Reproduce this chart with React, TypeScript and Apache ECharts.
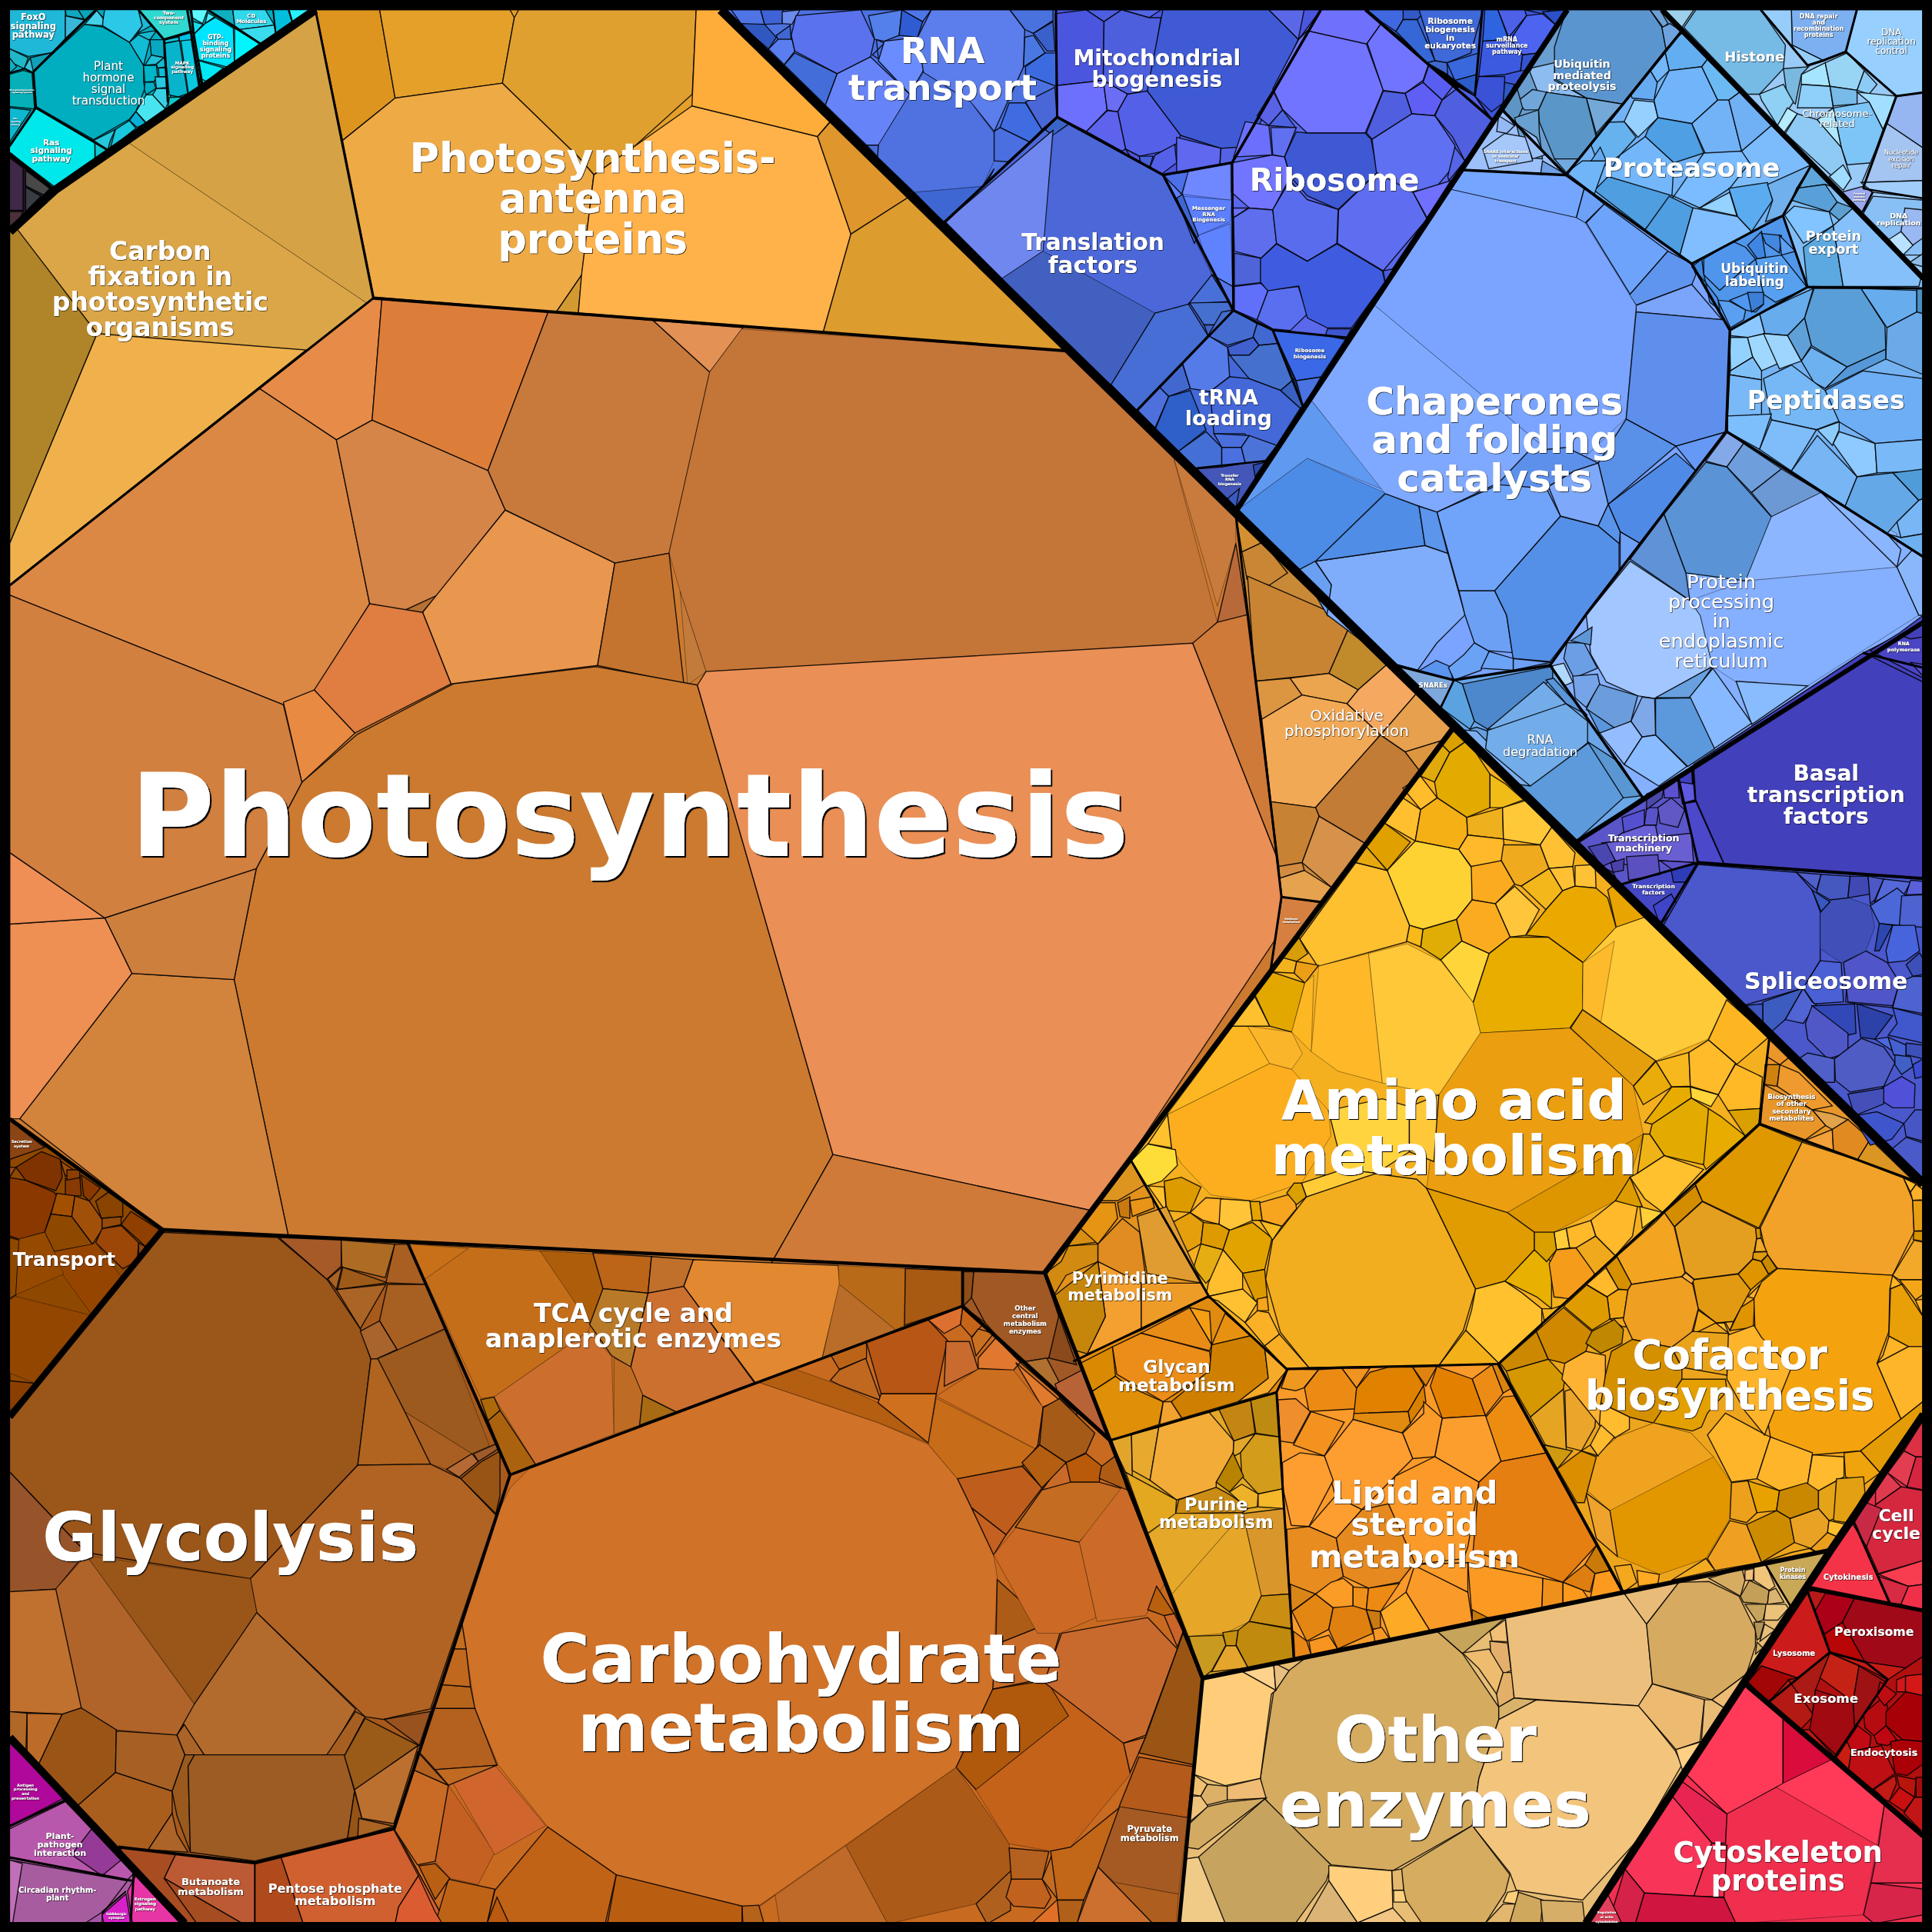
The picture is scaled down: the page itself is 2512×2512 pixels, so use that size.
import React, { useEffect, useRef } from "react";
import * as echarts from "echarts";

type Row = (string | number)[];

// Reading frames: [scaleX, scaleY, offsetX, offsetY] -> chart units (0..1568)
const frames: Record<string, number[]> = {
  o: [1, 1, 0, 0],
  a: [0.3583, 0.3185, 0, 0],
  b: [0.3185, 0.3185, 561.6, 0],
  c: [0.3232, 0.3185, 1061.2, 0],
  d: [0.3631, 0.3185, 998.7, 499.4],
  e: [0.398, 0.3185, 811.5, 624.2],
  f: [0.3583, 0.3185, 811.5, 1061.2],
  g: [0.2436, 0.3232, 1186, 1061.2],
  h: [0.3583, 0.3631, 312, 998.7],
  i: [0.2588, 0.4228, 0, 905],
  j: [0.2081, 0.2081, 0, 0],
  k: [0.2237, 0.208, 1217.2, 898.9],
};

// A "~" in front of a colour marks a sub-cell whose outline is faint.
const regionCells: Row[] = [
  ["#cc7a30", 303,242,868,285,1005,418,1028,624,1040,728,1031,789,848,1033,132,998,8,908,8,475],
  ["#c98a38", 1003,418,1180,590,1031,789,1040,728,1028,624],
  ["#d5a345", 8,188,45,154,256,8,303,242,8,475],
  ["#e5a02a", 256,8,585,8,868,285,303,242],
  ["#f5b020", 1180,590,1436,842,1428,912,1216,1107,1044,1111,981,1052,918,942,1031,789],
  ["#eea51e", 1428,912,1561,961,1561,1145,1485,1258,1317,1292,1216,1107],
  ["#e8962a", 1436,842,1561,961,1428,912],
  ["#fa9a2a", 1045,1111,1216,1107,1317,1292,1050,1346,1036,1130],
  ["#e3a828", 901,1169,1036,1130,1050,1346,976,1362],
  ["#e08a10", 871,1105,981,1052,1045,1111,1036,1130,901,1169],
  ["#e3921c", 848,1033,918,942,981,1052,871,1105],
  ["#e8bd75", 976,1362,1317,1292,1486,1258,1287,1561,957,1561],
  ["#f03050", 1287,1561,1417,1367,1561,1490,1561,1561],
  ["#e03048", 1486,1258,1561,1148,1561,1307,1467,1289],
  ["#b01010", 1417,1367,1467,1289,1561,1307,1561,1490],
  ["#a85a1c", 8,1150,132,999,331,1009,414,1197,320,1484,207,1512,96,1499,8,1410],
  ["#c86a20", 414,1197,781,1060,901,1169,976,1362,957,1561,362,1561,320,1484],
  ["#c87020", 331,1009,781,1031,781,1060,414,1197],
  ["#a05824", 781,1031,848,1033,901,1169,781,1060],
  ["#8f4800", 8,908,132,998,8,1150],
  ["#a84c22", 96,1499,207,1512,207,1561,150,1561],
  ["#d06030", 207,1512,320,1484,362,1561,207,1561],
  ["#a85ca0", 8,1410,150,1561,8,1561],
  ["#00aec0", 8,8,256,8,45,154,8,122],
  ["#201828", 8,122,45,154,8,188],
  ["#7aa4ff", 1187,138,1271,142,1373,214,1404,268,1401,350,1287,499,1258,540,1180,552,1129,539,1003,415,1061,326],
  ["#85afff", 1401,350,1561,452,1561,505,1333,647,1258,540,1287,499],
  ["#6aa6e8", 1180,552,1258,540,1333,647,1280,683,1169,575],
  ["#80bcf5", 1129,539,1180,552,1169,575],
  ["#4d72e0", 585,8,857,8,858,95,767,180],
  ["#4a56de", 857,8,1072,8,1000,132,944,142,858,95],
  ["#4c67d8", 767,180,858,95,944,142,1001,252,923,333],
  ["#5c80ff", 944,142,1000,132,1001,252],
  ["#5a68ec", 1072,8,1108,8,1211,97,1093,274,1033,268,1001,252,1000,132],
  ["#3c6ae4", 1033,268,1093,274,1058,331],
  ["#4468d8", 1001,252,1033,268,1058,331,1027,374,971,380,923,333],
  ["#4456b8", 971,380,1027,374,1003,415],
  ["#3d66d8", 1108,8,1203,8,1197,78],
  ["#3d55d8", 1203,8,1272,8,1219,89,1211,97,1197,78],
  ["#9cc0fa", 1187,138,1219,89,1271,142],
  ["#6a9ed0", 1219,89,1272,8,1349,8,1365,25,1271,142],
  ["#73b2f5", 1271,142,1365,25,1470,134,1447,175,1373,214],
  ["#5096ea", 1373,214,1447,175,1467,233,1404,268],
  ["#80bdf5", 1470,134,1561,226,1561,234,1467,233,1447,175],
  ["#75b2f2", 1404,268,1467,233,1561,234,1561,452,1401,350],
  ["#9acaf7", 1349,8,1561,8,1561,226],
  ["#4340bc", 1376,620,1512,530,1561,505,1561,713,1378,700],
  ["#5a55c8", 1280,683,1362,631,1378,700,1315,718],
  ["#4448c4", 1315,718,1378,700,1347,751],
  ["#4a58cc", 1347,751,1378,700,1561,713,1561,961],
];

const carbonCells: Row[] = [
  ["~#d5a345", 290,363,715,25,847,757,830,772],
  ["~#dba647", 125,485,290,363,830,772,693,892,220,850,35,578],
  ["#b08428", 22,590,35,578,220,850,22,1385],
  ["#f0b14c", 220,850,693,892,22,1490,22,1385],
];

const antennaCells: Row[] = [
  ["#dd9520", 715,25,860,25,895,250,776,358],
  ["#e5a02a", 860,25,1155,25,1165,45,1138,212,895,250],
  ["#e0a030", 1175,25,1577,25,1568,240,1430,380,1345,445,1310,400,1138,212,1165,45],
  ["#eeaa45", 776,358,895,250,1138,212,1310,400,1345,445,1318,700,1260,795,847,757],
  ["#d49a32", 1318,700,1310,797,1260,795],
];
const antennaRightCells: Row[] = [
  ["#ffb24a", 482,142,561.6,86,663.5,110.8,690.6,190,668,270,469.4,254,472,223],
  ["#ffad3a", 565,8,585,8,675,97,663.5,110.8,561.6,86],
  ["#df962c", 675.6,97,739,159,690.6,190,663.5,110.8],
  ["#dd9c2e", 739,159,869,286,668,270,690.6,190],
];
const photosynthesisCells: Row[] = [
  ["#e68c48", 303,242,310,242,302,341,273,357,210,315],
  ["#dc7e3a", 310,242,445,253,396,382,302,341],
  ["#c87a3c", 445,253,530,260,576,302,543,449,499,457,410,414,396,382],
  ["#e39155", 530,260,603,266,576,302],
  ["~#c47538", 576,302,602,267,868,285,951,366,988,505,969,522,573,545,552,480,543,449],
  ["~#c97b3d", 951,366,1003,418,1003,441,988,492],
  ["#b8693a", 988,505,1003,441,1012,499,969,522],
  ["#dc8845", 8,475,210,315,273,357,300,490,255,562,230,572,8,483],
  ["#d58548", 273,357,302,341,396,382,410,414,355,483,342,498,300,490],
  ["#b77033", 329,495,355,483,342,498],
  ["#e9964f", 343,497,410,414,499,457,485,540,366,555],
  ["#c4742f", 485,540,499,457,543,449,555,555],
  ["~#c27b3a", 552,480,573,545,558,556],
  ["#df7e40", 255,560,300,490,343,497,366,555,288,595],
  ["#e88a42", 230,570,255,560,288,595,245,635],
  ["#cc7a30", 245,635,290,596,368,555,484,541,566,556,676,937,625,1027,234,1003,190,795,208,705],
  ["#ea8f56", 573,545,968,522,1040,705,1040,755,888,983,676,937,566,556],
  ["#cf7a38", 968,522,988,505,1012,499,1040,728,1040,705],
  ["#cf7a38", 676,937,888,983,848,1033,625,1027],
  ["#d2843c", 16,908,107,790,190,795,234,1003,132,998],
  ["#cd7f3d", 85,745,208,705,190,795,107,790],
  ["#ee9053", 8,750,85,745,107,790,16,908,8,908],
  ["#ef8f55", 8,692,85,745,8,750],
  ["#d2803f", 8,483,230,572,245,635,208,705,85,745,8,692],
];
const oxidativeTopCells: Row[] = [
  ["#d49030", 1003,418,1025,440,1008,448],
  ["#c98634", 1008,448,1025,440,1045,465,1030,475,1012,470],
];
const oxidativeCells: Row[] = [
  ["#c98433", 38,-100,240,0,265,30,220,148,55,168],
  ["#c18a2a", 265,30,350,125,285,190,220,148],
  ["#f5a860", 285,190,350,125,415,200,335,305,260,225],
  ["#dc9540", 55,168,133,160,160,203,70,265],
  ["#eaa54e", 133,160,220,148,285,190,260,225,160,203],
  ["#f2a955", 70,265,160,203,260,225,335,305,190,490,90,475],
  ["#e6a04e", 335,305,415,200,498,290,470,320,390,348],
  ["#dd963f", 390,348,470,320,425,400],
  ["#c27c35", 190,490,335,305,390,348,425,400,302,582,198,512],
  ["#c78234", 90,475,190,490,198,512,160,630,108,640],
  ["#d6914a", 198,512,302,582,228,695,160,630],
  ["#d18c42", 108,640,160,630,165,650,110,670],
  ["#e5a24f", 110,670,165,650,228,695,205,733,115,717],
  ["#d58040", 115,717,205,733,90,905],
];
const aminoTopCells: Row[] = [
  ["#d9a000", 499,290,530,318,490,350,473,330],
  ["#e0a90c", 473,330,490,350,456,425,425,410],
  ["#e3aa00", 490,350,530,318,580,405,580,490,528,515,462,465,456,425],
  ["#f2bc18", 580,405,615,430,655,470,608,490,580,490],
  ["#ffbd2b", 425,410,462,465,425,495,385,440],
  ["#ffbf2e", 385,465,425,495,413,575,345,530],
  ["#f5b015", 462,465,528,515,530,560,510,597,413,575,425,495],
  ["#eeb01c", 528,515,608,490,610,570,530,560],
  ["#ffc838", 608,490,665,470,718,540,692,585,610,570],
  ["#e0a000", 345,530,402,578,350,650,304,590],
  ["#ffb92a", 530,560,610,570,615,625,538,640,510,597],
  ["#ffd233", 350,650,413,575,510,597,540,645,540,725,505,775,430,800,400,790],
  ["#efaa1e", 610,585,692,585,712,645,650,690,635,685,605,625],
  ["#fbab1f", 538,640,605,625,635,685,592,735,540,725],
  ["#ffc133", 718,540,770,605,765,640,712,645,692,585],
  ["#ffc033", 712,645,765,640,770,690,742,702],
  ["#f3b71c", 650,690,712,645,742,702,705,750],
  ["#ffc63c", 592,735,635,690,690,750,660,815,625,820],
  ["#fbab1f", 505,775,540,725,592,735,625,820,578,862,517,830],
  ["#ffc236", 770,638,815,635,817,695,770,690],
  ["#eba900", 705,750,742,702,770,690,817,695,843,720,862,795,788,885,710,820,660,815],
  ["#e8a400", 843,700,865,680,925,770,862,795],
  ["#dfad05", 430,800,505,775,517,830,470,878,425,845],
  ["#f7ba18", 400,790,430,800,425,845,393,830],
  ["#ffc030", 155,825,280,630,350,650,400,790,393,832,195,895],
  ["#e8a910", 280,630,304,590,350,650],
  ["#ffd53a", 470,878,517,830,578,862,542,988],
  ["#e9ad00", 578,862,625,820,710,820,788,885,787,1005,758,1052,558,1065,542,988],
  ["~#ffca38", 788,885,862,795,925,770,960,795,1112,978,1067,1080,950,1135,787,1005],
  ["~#fdba2a", 788,885,858,830,828,1035,787,1005],
  ["#e59f0d", 787,1005,950,1135,900,1200,760,1052],
];
const aminoCells: Row[] = [
  ["~#eb9e10", 980,672,1162,660,1292,808,1312,930,1035,1130,870,1068,895,830],
  ["~#de9600", 1035,1130,1312,930,1285,1040,1255,1100,1130,1180,1090,1180],
  ["#e09c00", 870,1068,1035,1130,1090,1180,1090,1225,1030,1305,970,1325],
  ["#f2ae1e", 625,1090,760,1030,850,1045,870,1068,970,1325,945,1430,895,1520,630,1525,572,1435,542,1300,556,1200],
  ["#e8b000", 1030,1305,1090,1225,1125,1255,1125,1375,1095,1345],
  ["#ffc12d", 970,1325,1030,1305,1065,1335,1105,1375,1105,1420,1018,1515,950,1430,962,1378],
  ["#f3b018", 950,1430,1018,1515,895,1520],
  ["~#fdae1e", 342,880,550,750,595,765,670,870,675,935,615,1055,510,1100,430,1085,370,1005,350,965],
  ["~#fdb722", 475,655,505,655,550,750,342,880],
  ["~#fbb52a", 505,655,595,670,617,725,595,765,550,750],
  ["#ffdd38", 268,998,302,955,358,970,362,1010,330,1050,300,1062],
  ["#ffc12e", 302,955,342,880,350,965],
  ["#e3a800", 520,575,555,517,622,545,596,670,550,655],
  ["#ffc030", 470,655,520,580,550,655],
  ["#ec9f16", 605,490,650,500,622,545,600,520],
  ["#f3b31e", 575,478,605,490,600,520,555,517],
  ["#d89d08", 610,430,628,470,605,490,575,480],
  ["~#fdb722", 622,545,640,525,635,720,595,670],
  ["~#ffb828", 650,502,752,470,780,800,690,770,635,720],
  ["~#ffc838", 752,470,830,445,900,490,965,595,980,672,895,830,780,800],
  ["#ffd43e", 670,870,780,840,835,860,835,975,768,1030,700,1020],
  ["#ffc838", 835,860,895,830,885,1000,835,975],
  ["#ffcc38", 615,1055,700,1020,768,1030,625,1090],
  ["#ffc12e", 302,1062,335,1065,340,1130],
  ["#dd9b00", 335,1050,370,1040,410,1065,388,1130,340,1125],
  ["#ffb42a", 388,1130,420,1092,455,1095,447,1160,415,1150],
  ["#ffc438", 450,1095,510,1100,515,1150,470,1175,447,1160],
  ["#e5a400", 510,1102,530,1102,535,1150,515,1150],
  ["#f7a51e", 530,1105,600,1080,605,1120,575,1165,535,1150],
  ["#d9a000", 600,1055,615,1055,625,1090,605,1110,585,1080],
  ["#e59f0d", 345,1160,388,1130,415,1155,410,1210,375,1235],
  ["#dd9b00", 415,1155,447,1160,468,1175,455,1225,410,1210],
  ["#e2a300", 468,1175,515,1155,555,1195,540,1275,495,1285,455,1225],
  ["#f7ba20", 530,1150,575,1165,556,1200],
  ["#e6ad12", 410,1210,455,1225,460,1260,420,1310,395,1270],
  ["#ffbe2d", 455,1225,495,1285,495,1325,420,1345,425,1310],
  ["#dd9a00", 495,1285,540,1275,545,1345,520,1355],
  ["#ffc132", 420,1345,495,1325,525,1360,500,1410,445,1355],
  ["#f7a51e", 525,1350,545,1345,548,1380,525,1380],
  ["#fbb126", 500,1410,525,1380,548,1385,570,1440,540,1470],
  ["#f7ae25", 540,1470,570,1440,630,1525,585,1528],
  ["#e9ac0a", 1292,808,1338,745,1370,810,1312,855],
  ["#f7b81e", 1338,745,1405,722,1408,808,1370,810],
  ["#ffbb2a", 1405,722,1445,690,1500,750,1465,830,1408,808],
  ["#fdb622", 1445,690,1482,588,1568,683,1503,752],
  ["#ffb926", 1500,752,1555,785,1550,865,1485,870,1465,830],
  ["#e8ab00", 1315,900,1370,810,1408,810,1410,838,1330,905],
  ["#ffd53a", 1408,810,1465,830,1450,860,1410,838],
  ["#e3aa00", 1330,905,1410,838,1445,865,1450,950,1435,1008,1355,985,1325,930],
  ["#e8ab00", 1445,865,1470,885,1520,935,1440,1020,1435,1008],
  ["#d9a000", 1485,870,1550,865,1548,905,1520,935],
  ["#efb318", 1312,930,1325,930,1355,985,1300,1030],
  ["#ffc12e", 1285,1040,1300,1030,1355,985,1435,1020,1352,1130,1315,1095],
  ["#dd9b00", 1255,1100,1285,1040,1310,1115,1280,1115],
  ["#ffb92a", 1205,1150,1255,1100,1300,1115,1290,1190,1255,1240,1215,1190],
  ["#ffcf38", 1305,1115,1352,1130,1310,1170],
  ["#ffcd3a", 1130,1180,1155,1170,1162,1220,1135,1225],
  ["#d9a000", 1090,1180,1130,1180,1135,1225,1115,1255,1090,1225],
  ["#ffb92a", 1155,1170,1205,1150,1215,1190,1175,1220,1162,1220],
  ["#f59c1a", 1135,1225,1175,1220,1215,1280,1195,1330,1165,1350,1130,1345,1120,1260],
  ["#f0a81d", 1175,1220,1215,1190,1255,1240,1215,1290],
  ["#f3b31e", 1125,1375,1150,1365,1110,1405,1105,1375],
];
const secondaryCells: Row[] = [
  ["#ea962a", 1205,1075,1250,1125,1228,1145,1200,1125],
  ["#cf8210", 1195,1145,1228,1145,1222,1200,1192,1195],
  ["#ef9a2e", 1228,1145,1270,1165,1345,1250,1300,1260,1222,1200],
  ["#e0a24a", 1300,1260,1345,1270,1380,1285,1345,1310,1330,1300],
  ["#e8962a", 1185,1298,1192,1195,1300,1260,1330,1300,1280,1340],
  ["#f2a03a", 1280,1340,1345,1310,1348,1370],
  ["#e08a20", 1345,1310,1380,1285,1430,1335,1400,1390,1348,1370],
  ["#db9522", 1400,1390,1430,1335,1530,1445],
];
const cofactorTopCells: Row[] = [
  ["#df9800", 943,68,1097,135,940,470,735,365,710,300],
  ["#f2a228", 1097,135,1295,205,1465,275,1498,360,1503,485,1425,655,1008,628,965,565,945,470],
  ["#d48c00", 710,305,735,365,633,465,597,410],
  ["#e59f20", 735,367,930,470,932,510,918,590,865,648,705,670,672,640,635,465],
  ["#f3a420", 565,447,597,410,633,465,672,645,660,660,478,690,425,580],
  ["#d69000", 385,622,425,582,478,688,465,712,430,708],
  ["#ffba2c", 315,690,385,625,430,708,390,738],
  ["#d09000", 928,472,945,470,948,510,932,512],
  ["#f0a828", 932,512,948,510,968,562,925,562],
  ["#df9a10", 920,565,968,562,972,575,948,600,918,590],
  ["#c98a00", 950,600,972,575,1005,628,975,650],
  ["#df9500", 865,650,918,592,948,600,975,650,910,712],
  ["#e29a12", 700,672,865,650,910,712,848,835,785,840,720,785],
  ["#f8b040", 660,660,675,645,705,672,695,690],
  ["#efa514", 390,738,430,710,465,712,450,820,400,825],
  ["#df9c00", 232,775,315,692,390,740,400,825,335,868],
  ["#f0a820", 400,825,450,820,460,855,445,855],
  ["#f3a818", 720,790,785,840,700,885],
  ["#ffb92c", 785,842,815,840,830,880],
  ["#f5b02a", 818,838,848,835,835,870],
  ["#fdb427", 1395,655,1425,655,1458,690,1418,708],
  ["#f2a828", 1425,655,1503,518,1535,525,1535,672,1450,672],
  ["#f5a518", 1450,672,1535,672,1535,730,1508,750],
  ["#fdb52a", 1508,752,1535,748,1535,815],
  ["#e09400", 925,745,920,858,835,870,875,780],
  ["#fdb032", 900,738,945,690,925,745],
  ["#ffb92a", 1465,275,1510,298,1490,330],
  ["#fdb02a", 1490,330,1510,300,1535,320,1535,360,1498,362],
  ["#e89e12", 1498,362,1535,362,1535,480,1503,482],
  ["#d89400", 1503,482,1535,482,1535,522,1500,515],
];
const cofactorMergedCells: Row[] = [
  ["#f4a30e", 1442.7,1029.5,1536,1035,1533.7,1046.6,1533,1080.6,1523.4,1106.4,1542.9,1151.7,1510,1177.6,1471,1180.8,1436.9,1166.2,1425,1100,1423.5,1053.9,1429.7,1040.3],
  ["#e89f08", 1534.4,1046,1543.4,1042.4,1560.6,1068.4,1561,1093,1549,1093,1533,1084.5],
  ["#ef9f22", 1324,1042.4,1364.8,1036.2,1373.8,1042.4,1378.3,1062.2,1372.7,1083,1356.5,1093.5,1324.9,1087,1317.5,1071,1321.2,1047],
];
const cofactorCells: Row[] = [
  ["#cc8800", 130,140,250,60,290,130,150,160],
  ["#d08800", 250,60,340,0,435,60,415,110,345,140,290,130],
  ["#bf8800", 435,60,510,30,540,55,535,90,465,115,415,90],
  ["#d59800", 150,160,290,130,345,175,340,205,230,275,165,190],
  ["#e5a422", 230,275,340,205,350,360,280,345],
  ["#eaa52a", 345,210,365,205,450,260,445,300,400,360,350,350],
  ["#fdb232", 335,180,345,140,415,110,480,120,480,200,460,295,365,205],
  ["#d59000", 480,170,500,110,570,80,700,100,735,150,735,255,640,290,560,275,465,240],
  ["#e3a000", 735,180,880,180,885,210,820,265,800,300,770,310,640,290],
  ["#ffbc2e", 465,240,560,275,560,305,510,328,460,295],
  ["~#e29600", 420,460,450,370,520,325,640,290,765,315,840,375,900,440,895,530,815,630,660,670,520,625,495,510],
  ["~#f0a31e", 450,370,520,325,640,290,765,315,840,375,495,510,420,460],
  ["#efa32c", 415,465,495,510,520,625,450,580],
  ["#da8e00", 320,405,400,360,450,375,420,460,410,490,385,490],
  ["#cf9910", 275,345,370,360,320,405],
  ["#e8a820", 400,360,430,345,455,372],
  ["#ffbb2e", 430,345,465,295,510,325,455,372],
  ["#ffb52a", 820,320,880,265,1015,320,1030,325,985,430,900,438],
  ["#fdb42a", 885,70,975,45,1000,75,1100,150,1010,320,945,260,885,180],
  ["#fdb427", 1385,140,1405,120,1425,72,1490,98],
  ["#ffb52a", 1385,140,1490,98,1540,98,1540,235,1465,280],
  ["#e39c06", 1465,280,1540,235,1540,260,1395,415,1330,360],
  ["#ffb52a", 1030,325,1170,365,1150,460,1060,460,985,430],
  ["#ffba2e", 1170,370,1275,375,1275,425,1190,460,1150,460],
  ["#efa40e", 1275,365,1330,360,1395,415,1340,445,1280,425],
  ["#eca01c", 900,440,955,435,985,515,950,540,895,530],
  ["#e8a200", 955,435,1060,460,1050,510,985,515],
  ["#c98800", 1060,460,1150,440,1190,460,1190,505,1095,530,1050,510],
  ["#e5a318", 1190,460,1250,435,1245,530,1225,535,1190,505],
  ["#e2a012", 1250,430,1340,425,1345,465,1285,540,1240,535],
  ["#cd8c00", 950,545,1050,510,1095,530,1110,590,1000,640],
  ["#f0a020", 895,535,950,545,1000,640,845,660,820,630],
  ["#eaa224", 1095,530,1190,505,1225,535,1220,570,1165,605,1110,590],
  ["#ffbe2e", 1225,535,1285,545,1250,575,1220,565],
  ["#f3a81e", 1100,615,1160,605,1195,620,1000,640],
  ["#ea9e1d", 1165,605,1220,565,1250,575,1225,610,1195,620],
  ["#f3a81e", 540,715,510,650,565,645,585,690],
  ["#ffaa22", 585,660,660,670,655,693,590,700],
  ["#f3ab20", 700,685,815,630,845,660],
  ["#e9a31a", 770,60,890,65,885,170,735,150,700,100],
];
const lipidCells: Row[] = [
  ["#ef9820", 652,157,722,158,688,205,670,212,637,205],
  ["#ec8b14", 722,158,775,155,808,205,805,258,700,265,690,205],
  ["#f09320", 775,155,838,155,808,205],
  ["#e08200", 838,165,880,152,935,152,960,198,925,265,802,270,808,205],
  ["#e38a10", 802,270,925,265,930,295,910,320,800,285],
  ["#d98000", 925,265,960,198,965,240,930,295],
  ["#df8310", 935,152,990,150,965,200],
  ["#e38000", 990,150,1070,182,1100,275,1002,282,975,200],
  ["#ec8c16", 1070,182,1115,145,1140,218,1100,275],
  ["#d9830f", 1115,145,1132,145,1160,205,1140,218],
  ["#ec8d12", 1140,228,1165,225,1240,370,1135,392,1100,280],
  ["#fb9e2d", 1002,282,1100,275,1135,392,1085,445,985,380],
  ["#fa9a28", 960,240,1002,282,985,380,935,385,912,320,960,270],
  ["#fe9d30", 735,378,800,285,912,320,935,385,895,430,820,515,760,480],
  ["#f3921f", 665,350,705,265,780,292,735,378],
  ["#ee8e2c", 630,235,670,232,703,265,665,345,635,340],
  ["#fe9e30", 640,395,680,370,735,378,755,440,700,558,660,555,642,465],
  ["#fe9e30", 700,558,760,480,820,515,762,588],
  ["#e88c20", 650,565,700,558,762,588,778,685,715,730,655,705],
  ["#fb9a28", 895,430,985,380,1085,445,1060,610,1050,640,935,655,880,500],
  ["#e68a20", 762,588,820,515,880,500,940,650,905,700,835,715,778,685],
  ["#e57f12", 1085,445,1135,392,1240,370,1352,605,1275,700,1072,620],
  ["#c97a08", 1352,605,1382,670,1348,678,1325,655],
  ["#de7e10", 1275,700,1325,655,1348,678,1337,725,1320,720],
  ["#fb9a1e", 1348,678,1382,670,1412,725,1337,745],
  ["#fb991c", 1275,700,1320,720,1335,745,1275,757],
  ["#fa9a22", 1060,650,1230,690,1228,765,1105,790,1070,800],
  ["#f0901c", 1230,690,1275,700,1275,757,1228,765],
  ["#fa9a28", 940,655,1060,725,1070,800,975,825,920,725],
  ["#fb9c2a", 935,655,1060,650,1060,725],
  ["#d98518", 658,705,715,730,660,775],
  ["#e38712", 662,775,715,730,755,765,745,820,695,850],
  ["#fa9c25", 715,730,750,700,778,690,800,710,800,765,755,765],
  ["#f19018", 800,712,835,715,830,770,800,765],
  ["#ec8a14", 835,715,905,703,862,775,830,770],
  ["#df8010", 755,765,800,760,830,770,845,830,765,870,745,820],
  ["#ca7a12", 830,770,862,775,862,818,845,820],
  ["#fdaa26", 862,775,920,725,975,825,885,848],
  ["#f89420", 700,850,745,835,765,870,705,885],
  ["#e88618", 665,825,695,850,705,885,668,893],
  ["#f59826", 845,820,865,815,885,848,850,855],
  ["#c67a0a", 1070,770,1105,790,1070,800],
];
const purineCells: Row[] = [
  ["#e2a52c", 250,338,298,322,300,430,285,420],
  ["#e8a92f", 298,322,360,305,340,440,300,415],
  ["#f3ac38", 360,305,470,262,530,340,528,380,490,445,490,460,400,490,340,440],
  ["#c48512", 490,245,568,235,578,320,530,340],
  ["#be8b12", 568,235,628,218,635,330,580,320],
  ["#e3a72a", 530,340,578,322,545,370,528,380],
  ["#d39c1a", 578,322,635,330,640,462,585,475,548,430,545,370],
  ["#b88300", 490,445,528,370,552,430,520,470],
  ["#ca8c14", 405,490,490,458,518,475,565,510,550,522,398,525],
  ["#e3a820", 285,420,400,490,398,525,335,575],
  ["#eeb228", 520,470,548,450,585,475,583,508,560,512],
  ["#f5b82a", 585,475,640,462,645,512,585,508],
  ["~#e5a828", 335,578,398,525,550,525,390,730],
  ["#d9962a", 550,525,645,512,655,730,592,735],
  ["~#e6a628", 390,730,550,525,592,735,565,800,510,830,428,838],
  ["#c98e12", 592,735,655,730,662,818,565,800],
  ["#c99a20", 428,838,505,835,512,860,480,925,458,945],
  ["#c4900e", 505,828,540,822,535,862,512,862],
  ["#bf8a0e", 540,822,565,800,662,820,665,895,562,918,535,860],
  ["#e5a52d", 512,862,535,862,562,918,480,928],
];
const glycanCells: Row[] = [
  ["#d98a02", 182,142,255,100,262,175,207,215],
  ["#df8f08", 207,215,262,175,290,200,370,240,360,298,250,338],
  ["#eb8d18", 255,100,320,65,475,112,480,160,370,240,265,170],
  ["#e88c16", 320,65,430,0,480,95,475,110],
  ["#f59e14", 430,0,475,10,480,95],
  ["#e89010", 510,15,568,72,480,95],
  ["#cf8000", 480,95,568,72,600,105,608,180,540,240,412,282,388,240,475,160],
  ["#f2a22e", 370,240,388,240,412,282,362,298],
  ["#f5aa2a", 600,105,652,157,608,217,540,240,608,180],
];
const pyrimidineCells: Row[] = [
  ["#d28a10", 92,1285,125,1255,140,1215,200,1210,200,1255,135,1290,108,1345],
  ["#d78e12", 140,1215,160,1165,200,1205],
  ["#e59414", 160,1165,205,1105,235,1105,240,1145,200,1210],
  ["#e08c20", 200,1210,250,1145,285,1180,300,1320,285,1310,200,1255],
  ["#e09c30", 280,1140,340,1115,412,1310,300,1285],
  ["#c87a10", 240,1105,265,1090,265,1145,245,1140],
  ["#e89418", 265,1100,310,1090,315,1118,270,1140],
  ["#dd9520", 205,1100,235,1050,268,1000,295,1060,240,1100],
  ["#ee9c28", 288,1310,412,1310,425,1345,288,1430],
  ["#f3a030", 200,1255,288,1310,288,1430,178,1490,215,1395],
  ["#c6860b", 108,1345,200,1255,215,1395,178,1490,150,1480],
];
const enzymeCells: Row[] = [
  ["#c6a45a", 990,825,1145,790,1048,882],
  ["#e4af6c", 1110,850,1150,855,1158,925,1135,935,1112,885],
  ["#f2bf76", 1110,825,1145,795,1150,852,1115,850],
  ["#eebc6f", 1048,880,1108,870,1140,930,1125,985,1085,920],
  ["#e3b06a", 1125,985,1140,930,1160,930,1165,995,1130,1018],
  ["#d5ab60", 690,895,990,825,1048,882,1130,1018,1130,1050,1085,1200,1070,1320,890,1435,750,1420,630,1300,600,1250,590,1200,620,980,655,925],
  ["#ecc07c", 1145,790,1412,725,1465,805,1478,958,1448,1015,1165,995],
  ["#d9b36a", 1130,1018,1165,995,1215,1000,1130,1050],
  ["#f3c47c", 1070,1320,1085,1200,1130,1050,1215,1000,1448,1015,1530,1130,1545,1165,1450,1350,1320,1510,1170,1485,1155,1440],
  ["#ffcd7a", 460,945,545,925,625,975,615,985,590,1200,510,1218,440,1190],
  ["#fdd28c", 545,925,620,905,625,975],
  ["#e8bf80", 620,905,655,925,625,975],
  ["#f0c070", 440,1190,470,1215,455,1245,430,1240],
  ["#ddb068", 470,1215,515,1220,515,1255,460,1270,455,1245],
  ["#efbb75", 515,1220,590,1200,603,1250,515,1255],
  ["#eec379", 430,1245,455,1245,472,1272,425,1315],
  ["#d2aa62", 425,1320,470,1272,515,1260,603,1250,450,1380,420,1375],
  ["#c6a35f", 450,1400,600,1252,750,1420,740,1460,670,1568,480,1568],
  ["#f0cb88", 405,1568,420,1405,450,1400,510,1568],
  ["#ffcf7e", 745,1422,888,1435,890,1530,810,1568,745,1460],
  ["#dcb476", 745,1460,810,1568,690,1568],
  ["#e4b86e", 888,1435,912,1430,915,1485,890,1485],
  ["#ffd080", 892,1485,920,1485,920,1515,892,1515],
  ["#d6ac60", 915,1485,910,1430,1070,1320,1155,1445,1145,1490,1100,1568,955,1568,920,1510],
  ["#ffce78", 1150,1490,1175,1485,1170,1520,1140,1515],
  ["#e3b66e", 1100,1568,1140,1520,1170,1520,1155,1568],
  ["#d0a85d", 1155,1568,1175,1490,1230,1510,1225,1568],
  ["#d6ae68", 1225,1510,1320,1515,1325,1568,1230,1568],
  ["#f2c583", 810,1568,890,1530,920,1568],
];
const enzymeRightCells: Row[] = [
  ["#e8bc78", 540,715,725,690,617,795],
  ["#d6aa60", 617,795,725,690,825,688,925,725,980,810,980,850,950,920,835,985,637,945],
  ["#edba72", 590,1000,637,945,810,985,795,1090,715,1110],
  ["#e9bb75", 810,985,835,985,880,1005,800,1090],
  ["#ffd083", 715,1110,800,1090,738,1165],
  ["#d6ac62", 825,680,935,655,945,685,930,725],
  ["#f2c07a", 945,660,975,655,972,685,945,685],
  ["#f0c47a", 975,650,1015,645,1045,700,1025,710,975,685],
  ["#c49f57", 930,725,960,685,1025,710,1020,745,940,740],
  ["#dcb471", 1025,712,1048,705,1075,740,1020,745],
  ["#c7a45d", 945,745,1018,745,1005,785,985,790],
  ["#ecc27a", 1015,745,1080,745,1090,755,1055,785,1008,785],
  ["#b49557", 975,790,1010,790,995,830,985,835],
  ["#e8be7c", 1010,795,1045,810,995,838],
  ["#d6ac60", 985,840,1005,855,980,870],
  ["#eebb75", 835,985,950,920,875,1005],
  ["#c9a858", 1015,645,1220,610,1100,755],
];
const redCells: Row[] = [
  ["#ff3a58", 740,1165,945,950,1072,1030,1072,1195,885,1272],
  ["#da0c3c", 1072,1030,1235,1135,1072,1195],
  ["~#ff3a58", 1072,1195,1235,1135,1410,1245,1385,1350,1050,1205],
  ["~#f02e4e", 885,1272,1050,1205,1385,1350,1360,1450,1340,1525,915,1547,875,1480],
  ["#e62f4f", 1410,1245,1540,1325,1540,1445,1365,1445,1390,1350],
  ["#d7254a", 1365,1445,1540,1460,1540,1525,1375,1547,1340,1525],
  ["#e82552", 735,1190,885,1272,880,1345,835,1345,700,1225],
  ["#f83458", 700,1225,835,1345,775,1478,610,1470,545,1410],
  ["#f02e50", 835,1345,885,1350,875,1480,775,1478],
  ["#d42248", 545,1410,610,1470,580,1547,490,1547],
  ["#d01540", 610,1470,875,1482,915,1547,580,1547],
  ["#e2405c", 487,1472,535,1547,425,1547],
  ["#f53348", 1307,540,1425,740,1160,700,1230,610],
  ["#d5283f", 1350,600,1380,495,1465,450,1540,460,1540,635,1390,668],
  ["#f83d50", 1390,670,1540,635,1540,695,1490,700],
  ["#d72a43", 1390,675,1490,700,1465,745,1430,742],
  ["#f03048", 1490,700,1540,695,1540,762,1465,745],
  ["#c82a45", 1305,545,1350,490,1400,505,1350,600],
  ["#e03a4f", 1380,460,1420,415,1465,450,1380,495],
  ["#e23d50", 1420,415,1475,360,1515,375,1485,450],
  ["#dc3045", 1475,360,1540,280,1540,375,1515,375],
  ["#d62540", 1515,375,1540,375,1540,458,1485,450],
  ["#ac0018", 1180,735,1215,715,1310,730,1270,790,1210,820,1170,745],
  ["#b81a1a", 1155,715,1185,705,1215,715,1180,760],
  ["#cc1b1b", 955,940,1155,715,1228,865,1120,930,1000,900],
  ["#b80505", 1210,820,1270,790,1345,890,1320,900,1228,865],
  ["#a00a18", 1270,790,1310,730,1540,765,1540,875,1480,905,1345,890],
  ["#c51b16", 1230,868,1345,890,1480,905,1420,935,1345,905],
  ["#a30606", 955,940,1000,900,1120,930,1020,990],
  ["#b41a14", 1025,990,1090,935,1180,1020,1130,1060],
  ["#a91b14", 1090,935,1120,930,1228,868,1180,960,1170,1020],
  ["#c42214", 1228,868,1325,900,1305,990,1195,930],
  ["#9e1214", 1325,900,1415,940,1310,1055,1305,990],
  ["#a00a10", 1180,960,1305,990,1310,1055,1250,1125,1160,1060,1170,1020],
  ["#c01a14", 1135,1060,1160,1060,1240,1125,1200,1105],
  ["#c91d12", 1250,1130,1285,1090,1300,1110,1290,1160],
  ["#c00a14", 1285,1090,1320,1050,1365,1075,1360,1105,1300,1115],
  ["#b70b12", 1340,1020,1395,985,1420,1000,1415,1050,1375,1075,1345,1055],
  ["#be0d12", 1395,940,1450,970,1410,1000,1385,975],
  ["#d01818", 1450,935,1480,925,1480,965,1450,965],
  ["#d41818", 1480,925,1540,920,1540,975,1480,965],
  ["#a80007", 1415,1015,1480,965,1540,975,1540,1090,1470,1085,1415,1050],
  ["#bf0712", 1375,1075,1415,1050,1450,1085,1420,1100,1385,1095],
  ["#be0f14", 1290,1160,1300,1115,1400,1100,1445,1170,1370,1210],
  ["#ab0008", 1430,1090,1470,1085,1540,1090,1540,1145,1485,1175,1445,1170],
  ["#c21a14", 1375,1210,1445,1175,1450,1195,1425,1240,1410,1235],
  ["#b8150c", 1450,1175,1515,1185,1510,1230,1460,1205],
  ["#a80a0a", 1515,1180,1540,1180,1540,1230,1515,1230],
  ["#c90f10", 1425,1240,1460,1205,1510,1230,1475,1265],
  ["#c21616", 1475,1270,1510,1230,1540,1230,1540,1320],
];
const chaperoneLeftCells: Row[] = [
  ["~#6099f0", 1003,415,1064,325,1124,398,1061,372],
  ["~#4c8ce6", 1003,415,1061,372,1124,400,1067.5,455.5,1055,462],
  ["#69a0f2", 1055,462,1067.5,455.5,1080.6,474.6,1077.4,499.4],
  ["#7fadfb", 1067.7,455.5,1156.5,442.7,1175,449,1189,499,1166,522,1150.5,544,1129,538,1077,499,1080.6,474.6],
  ["#6ba0f5", 1184,479.3,1213,479.3,1222.8,499.4,1227.4,529.7,1207.5,528,1196.6,521.7,1189,499.4],
  ["#5590e8", 1213,479.3,1266.4,419,1297,426.8,1314,441,1314,465,1287,499.4,1258,537,1228,534.4,1222.8,499.4],
];
const chaperoneCells: Row[] = [
  ["#74a6ff", 390,432,650,445,695,480,675,555,360,483],
  ["#6da1f8", 695,480,745,520,697,568,675,555],
  ["#6ea3fb", 700,568,745,520,905,640,810,750],
  ["#5f95ee", 905,640,965,672,975,700,965,725,825,778,808,752],
  ["#7ba4fb", 825,778,965,725,1062,840,1045,815,825,795],
  ["~#7aa4ff", 165,775,360,483,675,555,697,568,825,778,800,1065,670,1190,600,1145],
  ["~#7fa9ff", 10,1020,165,775,600,1145,480,1230,325,1305,195,1258],
  ["#5d90ea", 325,1305,480,1230,555,1150,650,1140,730,1180,670,1200,605,1240],
  ["#5f8fec", 825,795,1045,815,1062,840,1053,1100,925,1137,800,1068],
  ["#5990e8", 730,1180,800,1068,925,1137,755,1285],
  ["#6599f5", 925,1137,1053,1100,975,1200],
  ["#4f8be6", 755,1285,925,1155,975,1200,835,1385,785,1355],
  ["#6ea0f6", 785,1355,835,1385,785,1455],
  ["#7ea9fa", 605,1240,670,1200,730,1180,755,1285,730,1340,635,1315],
  ["#5a94ea", 730,1340,755,1285,785,1355,783,1385],
  ["#70a4fb", 325,1305,480,1235,600,1245,635,1315,470,1505,380,1505],
  ["#508de6", 195,1258,280,1290,295,1390,20,1430],
  ["#5b95ec", 280,1290,325,1305,352,1410,295,1390],
];
const chaperoneLowCells: Row[] = [
  ["#5a94ef", 420,142,460,115,490,130,497,165],
  ["#6aa2f6", 487,133,522,100,545,70,578,92,560,140,500,165],
  ["#6ba3f7", 578,92,632,110,632,140,560,135],
  ["#6ea0f5", 632,110,715,120,632,140],
  ["#7ea7dc", 360,122,500,165,468,235],
];
const processingMergedCells: Row[] = [
  ["#a2c6ff", 1287.4,499.4,1323,455.5,1371.5,487.3,1380,499.4,1390,541,1343.6,567,1329,564.7,1303.7,553.5,1291,531],
  ["~#85afff", 1416.7,471.4,1539.5,460,1557,499.4,1467,556.7,1409,553.5,1390,541,1380,499.4,1371.5,487.3],
];
const processingCells: Row[] = [
  ["#84a9e8", 1000,1175,1055,1100,1095,1130,1053,1190],
  ["#6e9fdc", 1095,1130,1190,1195,1115,1255,1053,1190],
  ["#6c98d4", 1115,1255,1190,1195,1290,1255,1165,1317],
  ["#5a93d6", 895,1310,1000,1178,1053,1190,1165,1317,1100,1480,950,1460],
  ["#5f92d6", 810,1425,895,1310,950,1460,960,1530],
  ["~#8cb6ff", 1165,1317,1290,1255,1480,1360,1480,1445,1100,1480],
  ["#8ab5ff", 1290,1255,1455,1360,1490,1400,1480,1445],
  ["#8ab7fb", 1480,1445,1520,1400,1547,1420,1547,1568,1535,1568],
];
const processingLowCells: Row[] = [
  ["#68a0e0", 950,210,1030,210,1078,130],
  ["#89bcff", 1130,168,1290,180,1165,278],
  ["#86b9ff", 1025,210,1078,135,1165,275,1080,340],
  ["#5c98dc", 950,212,1028,210,1082,340,1022,385,950,305],
  ["#7ea8e8", 895,270,920,208,948,212,950,305,920,310],
  ["#6b9cdc", 822,175,910,205,895,270,860,290,795,240],
  ["#5a96dc", 798,240,862,290,825,300],
  ["#93bdff", 825,300,895,270,920,310,880,380],
  ["#88bbff", 880,380,920,310,950,305,1020,385,957,435],
  ["#6b9fe5", 752,70,790,70,820,135,768,160,745,110],
  ["#b0d8ff", 715,130,745,122,765,170,745,180],
  ["#75a5e8", 765,155,820,150,825,175,795,235,770,210],
  ["#5e97d8", 760,65,808,30,805,75],
  ["#4d87cc", 518,175,720,130,720,160,575,290,545,270],
  ["#5aa3e0", 470,235,500,165,518,175,545,270,535,290],
  ["#65a0e0", 535,290,550,285,575,295,570,350],
  ["#7caff0", 500,290,550,295,670,432,655,440],
  ["#73ace9", 575,290,700,170,750,225,640,290],
  ["#72ade9", 575,293,750,225,798,270,798,325,688,425,670,435,570,340],
  ["#5b95da", 705,165,722,160,798,255,750,225],
  ["#5c9adb", 670,435,800,325,870,395,878,465,770,578,640,430],
  ["#5a97d2", 798,322,870,375,918,460,878,465],
];
const labelingCells: Row[] = [
  ["#4f95ec", 995,660,1068,615,1100,630,1125,660,1035,740,995,700],
  ["#3f86e3", 1105,625,1140,590,1150,655,1130,660],
  ["#4288e0", 1140,595,1190,600,1185,645,1150,620],
  ["#5c9ef0", 1185,600,1225,640,1190,650],
  ["#4287de", 965,680,990,660,995,700,1000,720],
  ["#57a0f0", 1125,660,1190,650,1255,733,1175,770,1145,750],
  ["#4f97f0", 1060,765,1110,745,1145,775,1125,795,1100,790],
  ["#3c7fd6", 1105,745,1145,745,1145,775,1115,795],
  ["#5a9ff0", 1030,765,1060,768,1100,790,1095,815,1062,835],
  ["#4a8fe4", 1000,720,1030,760,1035,790,1010,770],
];
const proteasomeCells: Row[] = [
  ["#62aef0", 895,120,940,85,1005,150,990,170,908,180],
  ["#73b6fa", 855,170,895,120,908,180,878,210],
  ["#66aaf2", 810,235,855,170,878,210,870,255,815,250],
  ["#96d0ff", 795,310,820,255,870,260,880,300,830,350],
  ["#66b2ef", 712,370,738,312,795,310,825,350,785,395,735,430],
  ["#72b4fa", 870,255,908,180,990,170,1030,255,965,315,880,300],
  ["#6bbaf3", 990,170,1005,150,1085,235,1058,255,1030,255],
  ["#4e9fe3", 855,330,880,300,965,315,995,390,920,415,848,348],
  ["#72b3f8", 965,315,1030,255,1058,255,1090,385,1005,405],
  ["#70b0f5", 1058,255,1085,235,1165,320,1090,385],
  ["#7cbcfc", 1090,385,1165,320,1265,420,1180,465,1155,475,1058,480],
  ["#73b6fa", 785,395,848,348,920,415,915,500,750,450],
  ["#7abcff", 995,390,1090,385,1110,415,1060,480,985,530,920,500],
  ["#4e9ee0", 720,485,755,450,920,500,848,585],
  ["#4f9ee2", 848,585,908,500,968,530,935,650],
  ["#81beff", 935,650,968,530,1080,552,1115,590,965,672],
  ["#94d2ff", 985,530,1060,490,1078,550],
  ["#5babf0", 1058,480,1155,465,1168,510,1115,590,1080,552],
  ["#70b0ec", 1155,470,1265,420,1195,548,1150,565,1168,510],
  ["#6fb5f8", 650,440,690,410,750,410,720,495],
  ["#65aaee", 735,375,750,410,712,410],
];
const ubiquitinCells: Row[] = [
  ["#5b95cf", 620,120,650,25,860,25,890,70,900,125,790,265,700,250,620,200],
  ["#6fa0d5", 860,25,885,25,905,60,893,70],
  ["#6ea3e0", 890,70,910,60,940,80,900,125],
  ["#8cbcf0", 555,175,620,160,620,205,700,250,600,235,580,240],
  ["#74a8d8", 700,250,790,265,725,340],
  ["#5a96c8", 580,280,600,235,700,250,725,350,680,405,620,405,582,310],
  ["#70a6d8", 525,260,565,228,600,235,580,280,545,280],
  ["#5f95c5", 492,278,525,220,540,275,520,320],
  ["#6aa0d0", 520,300,580,280,582,340,590,405,545,400],
  ["#72aae0", 620,405,680,405,650,440],
  ["#a5c7fa", 440,380,495,340,550,350,565,410,455,430],
  ["#95b9f5", 480,295,520,320,500,340,475,335],
  ["#6f9fe5", 590,410,650,445,585,445],
  ["#9ac0f8", 530,320,575,350,595,395,565,405,545,345],
];
const chromatinCells: Row[] = [
  ["#9dd0ea", 895,25,970,25,940,70],
  ["#75bbe6", 945,70,975,25,1138,25,1200,115,1195,175,1135,240,1105,240],
  ["#7cb0f0", 1215,25,1380,25,1352,132,1297,155,1217,115],
  ["#96cdfa", 1138,25,1215,25,1217,115,1297,155,1258,168],
  ["#97d0ff", 1380,25,1547,25,1547,235,1480,245,1352,132],
  ["#a5e5ff", 1240,190,1300,160,1312,220,1240,215],
  ["#98d5f5", 1300,160,1355,135,1398,180,1380,230,1312,220],
  ["#8ed0fa", 1240,215,1312,220,1320,275,1230,275],
  ["#8ccbf5", 1398,180,1430,215,1410,240,1380,230],
  ["#78bae8", 1312,220,1380,230,1380,265,1320,270],
  ["#a2deff", 1380,235,1480,245,1445,330,1410,260],
  ["#79b9e0", 1195,175,1258,170,1240,190,1225,265,1205,250],
  ["#8fd0f5", 1135,240,1195,215,1220,260,1180,320,1140,255],
  ["#b5ebff", 1180,320,1205,275,1230,290,1195,340],
  ["#7ec5f7", 1320,275,1410,260,1445,330,1415,415,1355,420,1340,375],
  ["#8fcaf5", 1200,340,1230,290,1280,305,1340,375,1355,425,1365,455,1318,450],
  ["#b0e8ff", 1280,305,1320,275,1340,375],
  ["#9fdcff", 1310,450,1345,420,1365,455,1345,485],
  ["#95b6f0", 1480,245,1547,235,1547,378,1455,315],
  ["#a4c4f2", 1392,465,1455,315,1547,378,1547,460],
  ["#a0cdfa", 1390,465,1547,460,1547,505,1420,490],
  ["#9aa8ee", 1340,490,1395,475,1418,490,1392,540],
  ["#88c0f5", 1395,545,1420,500,1547,510,1547,650,1500,650],
  ["#9ab8f2", 1500,530,1547,535,1547,605,1520,625,1490,590],
  ["#b8e2ff", 1460,610,1490,590,1520,625,1495,650],
  ["#8fbce8", 1510,670,1547,645,1547,680],
  ["#5ea6dc", 1228,480,1265,420,1330,480,1300,470],
  ["#59a0d8", 1215,510,1228,480,1300,470,1330,515,1310,540],
  ["#5d9fd0", 1310,540,1330,515,1370,530,1340,565],
  ["#82c4ff", 1198,548,1222,525,1310,540,1320,575,1245,620],
  ["#5ca8e0", 1245,630,1320,575,1345,730,1255,730],
  ["#85c0fa", 1320,575,1370,530,1540,710,1535,730,1345,730],
];
const peptidaseCells: Row[] = [
  ["#5a9ed8", 1248,810,1272,735,1390,735,1450,830,1452,890,1355,935,1265,880],
  ["#5fa0d8", 1205,855,1248,810,1265,880,1240,920],
  ["#67acec", 1135,800,1215,760,1270,735,1248,810,1205,855,1148,850],
  ["#8cc8ff", 1060,840,1135,800,1148,850,1105,860,1060,855],
  ["#93d2ff", 1060,860,1105,860,1118,910,1062,945],
  ["#9fd8ff", 1105,860,1148,850,1185,925,1140,945,1118,910],
  ["#9dd5ff", 1145,850,1205,855,1240,920,1185,940],
  ["#80c0f8", 1062,945,1118,910,1140,945,1140,968,1060,955],
  ["#67aced", 1390,735,1530,740,1530,795,1455,835],
  ["#4a8fc5", 1530,735,1547,735,1547,800,1530,795],
  ["#6ba9e8", 1455,835,1530,795,1547,800,1547,955,1452,915],
  ["#6eb1f0", 1240,920,1265,885,1355,935,1300,990,1272,975],
  ["#5598d8", 1300,990,1355,935,1452,890,1452,915],
  ["#75b8f5", 1145,965,1215,930,1300,995,1340,1075,1330,1075,1278,1095,1165,1070],
  ["#79b9f8", 1060,955,1140,968,1140,1060,1055,1060],
  ["#6eaef5", 1300,995,1395,945,1547,965,1547,1120,1425,1130,1335,1075],
  ["#7dbefc", 1055,1060,1165,1055,1135,1145,1055,1100],
  ["#7fbcfa", 1165,1070,1278,1095,1215,1200,1135,1145],
  ["#8dcbfa", 1280,1095,1335,1075,1335,1095,1318,1135],
  ["#8ec9ff", 1335,1100,1425,1130,1430,1205,1380,1215,1320,1130],
  ["#79b9f8", 1425,1130,1547,1120,1547,1200,1430,1205],
  ["#77b5f5", 1215,1200,1280,1110,1380,1215,1350,1290],
  ["#65a8e8", 1350,1290,1380,1215,1470,1205,1535,1275,1480,1330,1455,1360],
  ["#509cd8", 1470,1205,1547,1195,1547,1270,1535,1275],
  ["#78b6f5", 1480,1330,1535,1275,1547,1270,1547,1360,1490,1370],
  ["#6eb0f0", 1455,1360,1490,1370,1547,1360,1547,1420],
];
const translationCells: Row[] = [
  ["#4f74e6", 100,25,175,25,185,62,155,68,125,60],
  ["#3f63d6", 175,25,232,25,230,60,185,62],
  ["#3058c0", 125,60,185,62,215,95,195,125,155,90],
  ["#4066d0", 215,90,250,65,253,105,220,105],
  ["#6a8bec", 230,30,275,25,255,62,230,60],
  ["#5a7eef", 195,125,220,100,255,100,262,130,235,165],
  ["#5a72ee", 253,90,265,40,430,25,465,100,455,145,370,188,262,130],
  ["#436dd8", 235,165,262,135,370,188,340,268],
  ["#6783f8", 340,268,370,188,455,145,555,240,475,370,445,370],
  ["#4f74e6", 475,150,460,140,490,110,470,100],
  ["#5380ea", 465,100,450,40,535,25,528,90,490,105],
  ["#2f5cd2", 528,90,535,25,588,55,575,95],
  ["#4e76e6", 535,25,610,25,588,55],
  ["#6a8cff", 475,155,490,105,575,95,595,170,555,240],
  ["#5c7eec", 575,95,610,25,810,25,848,75,845,170,770,335,710,260,590,185],
  ["~#4f72e0", 555,240,590,185,710,260,770,340,770,410,740,475,568,490,473,400,475,370],
  ["~#3f67d4", 568,490,740,475,640,565],
  ["#4a72de", 810,25,920,25,920,52,870,85,848,75],
  ["#3a60cc", 870,85,920,55,925,130,905,130],
  ["#4a78e2", 848,95,870,90,900,135,845,170],
  ["#3c6ae0", 850,170,900,135,928,135,928,220,850,190],
  ["#3f6ce0", 808,262,850,262,892,330,860,362,785,325],
  ["#4a67d8", 850,260,925,222,930,298,892,330],
  ["#4b6fe0", 770,335,785,325,860,362,805,412,770,410],
  ["#5574e0", 740,475,770,430,760,450],
  ["#4a6dd8", 445,370,475,370,473,400],
  ["#4a56de", 925,35,1005,25,1050,55,1048,205,930,218],
  ["#4d5ee0", 1005,25,1095,25,1050,55],
  ["#5265e5", 1095,25,1195,25,1165,45],
  ["#4d5fdc", 1050,55,1095,25,1165,45,1195,45,1165,235,1110,240,1048,205],
  ["#3f5ad4", 1200,25,1470,25,1545,100,1420,375,1348,378,1245,345,1160,232,1195,50],
  ["#5a68e8", 1470,25,1560,25,1545,100],
  ["#6c70fc", 930,218,1048,205,1058,280,1005,335,932,298],
  ["#6b6df5", 1048,205,1110,240,1085,285,1058,280],
  ["#5560e8", 1085,285,1110,240,1160,232,1245,345,1232,370,1205,385,1140,398,1105,380],
  ["#5d63ec", 1005,335,1058,282,1085,285,1105,380,1095,385],
  ["#5055d8", 1105,380,1140,398,1145,422,1125,412],
  ["#4860d8", 1140,398,1175,398,1165,430,1145,422],
  ["#5560e8", 1165,432,1180,395,1230,368,1235,415,1195,445],
  ["#5f68ef", 1235,350,1348,378,1345,420,1235,440],
  ["#5463e4", 1348,378,1395,375,1375,415,1345,420],
  ["#3a65c8", 932,298,960,315,920,345,900,330],
  ["#6f87ee", 645,565,920,332,895,640,790,710],
  ["~#4c67d8", 920,345,960,318,1200,445,1325,700,1265,775,1180,798,895,640],
  ["~#4260c0", 790,710,895,640,1180,798,1068,980,965,898],
  ["#466ed4", 1068,980,1180,798,1265,775,1315,855,1132,1045],
  ["#4870d8", 1265,775,1325,700,1368,768],
  ["#4670d0", 1268,772,1368,770,1378,795,1338,828,1305,828],
  ["#3e64c4", 1305,828,1338,828,1315,855],
  ["#4d6fe8", 1200,445,1265,438,1248,495],
  ["~#7088ff", 1250,495,1265,438,1372,415,1373,510],
  ["~#5c80ff", 1248,500,1375,510,1372,565,1290,600],
  ["~#5f82ff", 1290,600,1372,570,1378,730,1325,700],
  ["#5574e8", 1325,700,1378,730,1380,790],
  ["#3f66d0", 1235,505,1250,495,1290,600,1280,620],
  ["#5a62e6", 1440,295,1480,230,1505,280,1470,320],
  ["#6a70fb", 1380,400,1410,310,1470,320,1478,395],
  ["#4c62e0", 1470,320,1505,280,1538,325],
  ["#6070f0", 1475,325,1540,325,1510,400,1480,395],
  ["#7175ff", 1375,415,1478,395,1510,400,1525,450,1480,535,1420,530,1375,490],
  ["#6a70f8", 1378,530,1418,530,1380,555],
  ["#5e6eec", 1380,555,1420,530,1480,535,1490,620,1450,658,1382,640],
  ["#4e64d8", 1382,645,1450,658,1450,720,1382,728],
  ["#6070fb", 1382,730,1450,722,1468,740,1440,815,1382,790],
  ["#5a6ff0", 1468,740,1545,730,1568,800,1525,842,1480,838,1440,815],
  ["#4d70dc", 1135,1045,1190,985,1215,1010,1180,1090],
  ["#4268d0", 1190,985,1250,928,1270,990,1215,1010],
  ["#2f5fc8", 1180,1095,1215,1010,1270,995,1310,1095,1240,1150],
  ["#557be8", 1250,925,1315,855,1365,885,1370,960,1320,998,1270,990],
  ["#456cd0", 1315,855,1350,795,1380,790,1440,825,1430,860,1365,880],
  ["#4060d0", 1365,885,1430,860,1445,880,1420,905,1370,905],
  ["#4068d0", 1430,858,1440,825,1480,840,1495,875,1445,880],
  ["#4570ce", 1370,905,1420,905,1445,880,1495,875,1535,965,1500,995,1420,965],
  ["#4468d8", 1320,998,1370,960,1420,965,1500,995,1550,1040,1490,1135,1425,1120,1408,1105,1330,1105],
  ["#3860c0", 1535,965,1560,1030,1550,1040,1500,995],
  ["#4470d6", 1240,1150,1310,1100,1350,1140,1350,1190,1285,1195],
  ["#4a6edc", 1330,1105,1420,1110,1400,1140,1350,1140],
  ["#4b70e0", 1350,1140,1400,1140,1410,1180,1350,1190],
  ["#4c74d8", 1420,1110,1490,1135,1460,1175,1410,1180,1400,1140],
  ["#2c4aa8", 1430,1185,1460,1178,1435,1215],
  ["#3a5ac0", 1365,1270,1395,1245,1385,1300],
];
const ribosomeMergedCells: Row[] = [
  ["#6f70fb", 1072,8,1108,8,1121,19,1109,36,1061,25,1054,32],
  ["#7074ff", 1033,72,1054,32,1061,25,1109,35.7,1122.6,73,1108,108,1061,108,1041,89],
  ["#3f58d4", 1042.6,127,1052,107,1061,108,1108,108,1112.8,113,1117.8,140,1086,170,1061,159,1047,143],
  ["#5a6cee", 1033,170,1047,146.5,1061,162,1086,170,1085,197.5,1061,212,1036,197.5],
  ["#3f5ce0", 1023,210,1036,198,1061,212,1085,198,1122,220,1124,229,1097,266,1077,266,1061,258,1054,232,1029,236,1023,229],
  ["#3a68e6", 1033,268,1093,274,1072,306,1052,309],
  ["#4a72e0", 1052,309,1072,306,1058,331],
];
const ribosomeCells: Row[] = [
  ["#7074ff", 185,60,305,160,290,205,245,238,190,230,150,110],
  ["#585ff0", 305,165,365,220,338,255,290,210],
  ["#5f5ff5", 245,238,290,210,338,255,318,295,262,290],
  ["#4f5fe0", 190,232,245,238,262,290,162,355,148,338],
  ["#4f5fe0", 338,255,380,222,420,245,465,310,395,410,365,350,320,295],
  ["#6070f2", 162,355,262,290,320,295,370,370,370,420,300,505,265,490,175,455],
  ["#5465e5", 370,375,395,410,355,460,352,450],
  ["#5f6ef0", 78,535,175,440,265,490,300,558,190,690,75,620],
  ["#7070ff", 265,490,360,460,300,555],
  ["#4a5cd8", 190,690,215,685,195,720],
  ["#3e55d0", 50,838,110,838,95,865,45,855],
  ["#4068e0", 150,25,250,25,240,50,222,80,185,55],
  ["#3358c8", 240,25,300,25,275,50,240,50],
  ["#3568d6", 222,80,240,50,275,50,320,155,300,160],
  ["#3f68d8", 280,25,440,25,410,135,350,160,320,155],
  ["#3868dc", 350,160,430,135,425,190,370,205],
  ["#2c5cc8", 370,205,425,190,420,240],
  ["#4068d0", 300,160,320,155,350,160,352,190],
  ["#2e64e0", 445,25,478,25,505,100,440,105],
  ["#4c60e8", 478,25,545,25,550,40,505,95],
  ["#4c64f0", 550,40,590,35,625,65,580,135,535,140,510,100],
  ["#3a5cd8", 545,25,610,25,590,35],
  ["#2c50c8", 590,30,650,25,625,65],
  ["#3a52d6", 430,195,495,195,495,260,462,285,420,245],
  ["#3058c4", 495,210,520,215,490,275],
  ["#3c5ae0", 440,105,510,100,540,140,535,180,495,190,430,195],
  ["#3454d0", 540,140,580,135,560,180,535,180],
];
const transcriptionCells: Row[] = [
  ["#4340bc", 1035,380,1415,95,1548,170,1548,672,1105,638,1040,470],
  ["#4a45c4", 1430,90,1495,45,1548,0,1548,160],
  ["#4340b8", 1495,50,1548,20,1548,55,1520,60],
  ["#5a50d8", 1520,120,1548,125,1548,155],
  ["#4040c0", 1000,420,1030,385,1035,470,1010,480],
  ["#5f58e0", 1005,425,1035,430,1038,470,1012,478],
  ["#4b48cc", 1012,480,1040,475,1105,640,1045,630],
  ["#5550d0", 875,515,925,495,925,535,880,560],
  ["#5a52c8", 925,535,952,535,958,490,930,490],
  ["#6058c4", 955,490,985,465,1015,495,1000,540,960,530],
  ["#4a48a8", 930,455,968,440,965,465,930,495],
  ["#5b52d0", 968,445,1000,420,1003,465,970,465],
  ["#6a60d8", 875,555,925,535,950,535,955,565,845,580],
  ["#6a5fd2", 830,580,1030,555,1035,630,960,625,895,640,860,625],
  ["#5a50c0", 885,615,955,610,960,660,890,675],
  ["#5c52c8", 960,625,1040,630,990,650],
  ["#4a48b0", 800,590,840,580,860,625,830,640],
  ["#4a42a8", 850,630,880,620,878,650,855,655],
  ["#4040a8", 830,640,855,655,870,688],
  ["#2f3cb8", 985,650,1045,632,1020,680,990,680],
  ["#3f45c8", 945,740,985,710,1000,740,960,790],
];
const spliceosomeCells: Row[] = [
  ["#4a58cc", 965,795,1045,635,1265,655,1300,700,1318,755,1318,880,1280,950,1145,995],
  ["#3f55c0", 1145,995,1190,990,1190,1040],
  ["#3d5cc0", 1190,985,1280,950,1240,1030,1210,1060,1190,1040],
  ["#5164d4", 1280,950,1300,985,1310,990,1280,1040,1240,1030],
  ["#4a60d4", 1318,880,1365,885,1370,985,1305,990,1280,950],
  ["#3248b8", 1300,995,1395,990,1398,1065,1380,1070],
  ["#5058c8", 1285,1040,1300,995,1380,1065,1380,1115,1335,1130,1290,1080],
  ["#2c42a8", 1400,990,1480,1020,1440,1080,1408,1075],
  ["#4058cc", 1480,1000,1548,1020,1548,1090,1470,1070,1490,1040],
  ["#5060d4", 1375,985,1400,990,1480,1000,1480,960,1420,910,1380,885],
  ["#5055c8", 1370,885,1420,855,1468,885,1495,935,1480,995,1380,985],
  ["~#4050b8", 1318,760,1340,725,1382,720,1430,740,1440,795,1420,855,1365,885,1318,850],
  ["#3858c0", 1300,700,1340,730,1320,755],
  ["#5060c8", 1265,655,1320,660,1310,700],
  ["#4458c0", 1320,660,1385,665,1380,720,1340,725,1310,705],
  ["#4048b4", 1385,665,1425,665,1430,710,1380,720],
  ["#4c58c4", 1425,665,1460,672,1440,725,1430,735],
  ["#5568d8", 1460,672,1520,680,1505,712,1490,700,1440,730],
  ["#5a60dc", 1520,675,1548,678,1548,710,1510,712],
  ["#4c68d8", 1430,740,1490,695,1510,715,1495,790,1450,785],
  ["#4e62d0", 1500,715,1548,712,1548,795,1495,790],
  ["#2c48b0", 1450,785,1480,790,1450,855,1440,855],
  ["#4864dc", 1465,855,1480,790,1530,790,1540,855,1510,880,1470,885],
  ["#3c50b8", 1510,890,1540,860,1548,875,1548,915,1525,920],
  ["#4e62d0", 1495,935,1525,920,1548,920,1548,1015,1480,1000],
  ["#4e5cc4", 1350,1130,1410,1078,1460,1100,1485,1140,1460,1200,1385,1215,1352,1185],
  ["#5060c8", 1270,1130,1290,1115,1350,1130,1350,1190,1330,1190],
  ["#4c68dc", 1440,1080,1470,1075,1480,1110,1460,1095],
  ["#4560d0", 1470,1075,1510,1095,1510,1125,1482,1120],
  ["#3c50b8", 1510,1090,1548,1095,1548,1130,1510,1120],
  ["#4060c8", 1485,1120,1520,1125,1525,1150,1500,1170,1485,1145],
  ["#3a4cd0", 1525,1145,1548,1130,1548,1175,1530,1180],
  ["#5050d8", 1455,1205,1500,1175,1530,1195,1528,1255,1480,1255,1460,1240],
  ["#4450b8", 1380,1220,1460,1205,1460,1245,1395,1275],
  ["#3f55cc", 1395,1275,1445,1265,1505,1295,1478,1335,1430,1350,1400,1295],
  ["#4656c4", 1505,1295,1530,1260,1548,1260,1548,1340,1510,1328],
  ["#4a5ac8", 1478,1360,1510,1330,1548,1345,1548,1440],
];
const glycolysisCells: Row[] = [
  ["#9b561a", 30,580,510,225,870,235,1025,315,1130,410,1163,468,1122,672,785,890,270,840,30,685],
  ["#a65a28", 875,235,1070,240,1070,290,1025,315],
  ["#ad6b24", 1070,240,1238,248,1208,312,1072,292],
  ["#aa5f22", 1238,248,1280,248,1335,325,1210,322],
  ["#aa6224", 1028,315,1072,292,1055,335],
  ["#9e5a18", 1060,332,1075,292,1215,322,1055,335],
  ["#aa6426", 1055,335,1210,325,1130,410],
  ["#a85f22", 1215,325,1335,325,1395,410,1185,468,1245,450,1190,395],
  ["#a8642c", 1130,415,1190,395,1245,450,1180,468,1163,468],
  ["~#9c5a1e", 1185,468,1395,412,1535,635,1480,650,1270,570],
  ["~#aa5f22", 1270,570,1480,650,1400,680,1350,670],
  ["#b0641f", 1163,468,1185,468,1270,570,1350,670,1122,672],
  ["#b56a35", 1400,680,1480,650,1500,665,1440,695],
  ["#9e5a2a", 1485,650,1560,630,1565,640,1500,665],
  ["#985414", 1445,698,1510,665,1568,645,1568,730,1555,765],
  ["#b06323", 1122,672,1350,670,1445,698,1555,768,1350,1140,1200,1160,1145,1155,805,955,785,890],
  ["#97542a", 30,685,270,840,175,910,30,915],
  ["~#9a5518", 270,845,785,890,805,955,610,1130],
  ["~#b0642a", 175,910,270,845,610,1132,555,1190,365,1180,255,1138],
  ["#c0702f", 30,915,175,910,255,1138,195,1150,30,1145],
  ["#b06828", 30,1145,85,1148,80,1245,30,1195],
  ["#bc6c28", 85,1148,195,1150,120,1248,85,1245],
  ["#9a5516", 120,1248,195,1150,255,1138,365,1180,362,1262,245,1325],
  ["#a66024", 365,1182,555,1190,580,1228,540,1298,362,1262],
  ["#aa5e1e", 245,1325,362,1262,540,1298,540,1340,465,1410,370,1405],
  ["#b26b2d", 555,1190,610,1130,805,955,1115,1140,1030,1228,640,1228,575,1170],
  ["#ab6428", 555,1190,578,1170,640,1228,580,1228],
  ["#a65f20", 1025,1228,1115,1145,1145,1155,1080,1230],
  ["#9a5a1e", 540,1298,580,1228,610,1228,590,1250,597,1415,555,1345],
  ["#9c5c24", 590,1250,610,1228,1080,1228,1112,1298,1090,1388,800,1432,597,1415],
  ["#955316", 1112,1298,1135,1350,1122,1385,1090,1388],
  ["#9a5a18", 1080,1230,1145,1158,1312,1210,1112,1295],
  ["#bc7030", 1112,1295,1312,1210,1235,1360,1135,1350],
  ["#98521f", 1205,1160,1350,1145,1315,1210],
  ["#ab6424", 1125,1350,1235,1365,1122,1385],
  ["#ad6428", 465,1410,540,1340,555,1380,590,1415],
  ["#a84c22", 375,1405,552,1418,515,1465,615,1548,605,1560,500,1560],
  ["#bc5a36", 552,1418,798,1435,798,1550,755,1550,515,1465],
  ["#a54c20", 515,1465,755,1550,615,1550],
  ["#b04a1c", 800,1435,880,1422,950,1550,800,1550],
  ["#d06030", 880,1422,1235,1372,1312,1460,1250,1520,1240,1550,950,1550],
  ["#da5c30", 1312,1460,1365,1530,1385,1550,1240,1550,1250,1520],
  ["#8b4414", 30,10,140,62,30,85],
  ["#7f3300", 50,100,130,70,190,85,195,120,175,145,80,125],
  ["#93481a", 30,100,50,100,30,120],
  ["#9a4c0e", 190,88,230,105,205,118],
  ["#883a04", 205,122,250,115,255,155,205,155],
  ["#8c3f00", 210,105,250,105,250,120,210,125],
  ["#8a3a00", 255,115,315,140,280,165,262,155],
  ["#8a3800", 30,120,80,125,170,148,178,155,140,225,60,238,30,232],
  ["#a25000", 178,150,235,155,225,195,160,190],
  ["#a05008", 235,155,280,165,320,200,320,220,290,248,225,195],
  ["#8f4800", 140,225,160,190,225,195,290,248,170,262],
  ["#884400", 300,165,340,148,385,165,385,195,318,198],
  ["#944a0a", 320,198,380,195,380,210,320,218],
  ["#8f4000", 380,210,410,185,505,222,455,252,435,240],
  ["#9c4608", 320,218,380,212,435,245,430,280,385,295,300,245],
  ["#8a4410", 435,245,455,252,435,278],
  ["~#964500", 170,262,290,248,300,245,380,310,360,325,290,385,195,305],
  ["#8f4800", 30,235,60,240,50,345,30,352],
  ["~#964a00", 60,238,140,225,170,262,200,305,50,345],
  ["~#924600", 30,355,50,348,290,385,110,515,30,495],
  ["#8a3e00", 30,510,108,515,30,570],
  ["#b0089a", 30,1205,205,1310,30,1365],
  ["#b858ac", 30,1370,205,1318,405,1440,420,1455,400,1468,30,1425],
  ["#953a96", 225,1420,300,1360,380,1430,320,1460],
  ["#a85ca0", 30,1430,400,1470,300,1550,30,1550],
  ["#c070b8", 30,1430,70,1437,40,1550,30,1550],
  ["#e835a5", 400,1490,430,1455,580,1550,415,1550],
  ["#d820c8", 320,1535,395,1495,410,1550,325,1550],
  ["#a855a8", 270,1550,320,1530,320,1550],
];
const signalingCells: Row[] = [
  ["#1fb8d8", 37,38,255,38,255,150,205,205,110,220,37,190],
  ["#10a8c0", 255,38,305,38,330,75,258,62],
  ["#0aa5b8", 305,38,375,38,330,78],
  ["#38b8d8", 255,62,330,78,255,150],
  ["#20b8c8", 37,190,110,225,95,268,37,240],
  ["#38c0d8", 95,265,118,225,138,280,125,282],
  ["#10a0b8", 118,225,205,205,130,280],
  ["#12b0c8", 37,225,65,260,37,285],
  ["#05b0b8", 37,290,92,275,125,285,135,425,37,415],
  ["#0eb8d0", 37,420,120,430,37,555],
  ["#00e8ea", 37,570,140,420,370,555,370,620,215,730,37,595],
  ["#0fc8d0", 370,555,420,585,372,620],
  ["#00aec0", 130,280,330,95,400,105,505,165,560,255,560,320,565,345,530,435,505,465,365,545,140,415],
  ["#45d0e8", 330,95,378,40,405,75,400,100],
  ["#2cc8e8", 405,38,540,38,555,100,505,165,400,100],
  ["#05acc0", 375,38,408,38,403,70],
  ["#20b8d8", 540,40,590,100,535,130,555,100],
  ["#18b8d0", 535,132,590,122,610,120,585,155,510,170],
  ["#12bcd5", 505,165,540,135,585,158,560,255],
  ["#08a8c0", 585,155,640,155,640,225,590,215],
  ["#20c0d8", 590,215,640,225,610,250,565,255],
  ["#00b5c8", 560,255,610,255,615,300,600,318,565,320],
  ["#14bcd0", 610,250,640,225,650,260,615,265],
  ["#10bcd4", 618,265,655,265,655,298,620,300],
  ["#28c8e0", 605,300,655,300,665,340,610,345],
  ["#00acc0", 565,320,600,320,608,345,570,370,563,350],
  ["#38d0e4", 610,345,665,345,665,380,645,425,595,370],
  ["#48e4f0", 530,435,570,370,595,370,645,425,570,478],
  ["#08b0d8", 505,470,530,435,568,480,535,497],
  ["#18c8dc", 430,580,450,505,505,470,530,500],
  ["#25c8dc", 365,548,450,505,430,550,420,585],
  ["#30d8d0", 540,38,730,38,745,120,638,152,610,120,590,100],
  ["#08b4cc", 640,170,700,158,732,365,695,378,660,370],
  ["#0ac8e0", 705,158,745,150,775,340,735,365],
  ["#10c0d8", 640,155,695,145,700,158,642,168],
  ["#00c0e8", 698,135,745,125,745,155,700,160],
  ["#10c8c8", 660,380,710,378,655,425],
  ["#5cf8ff", 740,38,810,38,790,92,752,70],
  ["#40f0ff", 810,50,838,65,800,92],
  ["#18dcf0", 748,82,792,95,755,135],
  ["#00e5ff", 755,135,800,92,840,68,910,110,915,268,770,232],
  ["#00f5ff", 915,110,1015,170,915,268],
  ["#00e8f4", 770,235,872,265,790,330],
  ["#00dce8", 780,305,810,320,785,330],
  ["#10afc0", 808,38,908,38,915,100],
  ["#30d8ec", 908,38,1035,38,1070,98,935,115,915,100],
  ["#38dcec", 935,115,1070,98,1075,130,1015,170],
  ["#00bedc", 1065,38,1125,38,1140,85,1075,130],
  ["#28f0ff", 1128,38,1210,38,1140,85],
  ["#402848", 37,615,90,655,90,820,37,820],
  ["#484848", 100,665,195,735,170,760,100,725],
  ["#383d44", 100,730,160,765,100,825],
  ["#4a3038", 37,825,90,825,65,880,37,880],
];
const carbohydrateCells: Row[] = [
  ["~#c56e1a", 55,30,350,45,495,130,462,225,248,372,218,375],
  ["~#c77018", 55,30,190,40,90,110],
  ["~#ae5e0a", 352,45,472,52,495,130,465,210],
  ["#bc6418", 472,50,605,58,597,140,495,130],
  ["#c0702a", 605,58,700,65,678,125,597,140],
  ["#e28830", 700,65,1028,78,1032,120,992,285,840,340,678,125],
  ["#b87a28", 465,210,495,130,597,140,558,305,515,280],
  ["#cc7030", 558,305,597,140,678,125,838,340,660,405,585,368],
  ["~#cc6f2e", 248,372,462,225,515,282,520,455,342,522],
  ["~#be6c24", 520,285,558,305,585,368,578,435,520,455],
  ["#a86a12", 578,435,585,368,660,405],
  ["#ae6a0a", 218,378,248,372,262,402,235,425],
  ["#ab620e", 235,425,262,402,342,522,285,545],
  ["~#b86a18", 1028,78,1180,85,1178,212,1158,222,1030,120],
  ["~#ba6d28", 1030,120,1158,222,1070,255,992,285],
  ["#a85a12", 1180,85,1310,90,1310,168,1178,212],
  ["#8f4e18", 1312,92,1335,92,1330,150,1312,168],
  ["#a05824", 1335,92,1495,95,1530,200,1505,285,1440,295,1360,205,1330,150],
  ["#8a4a1c", 1530,180,1495,100,1568,300,1505,285],
  ["#b07030", 1440,295,1500,285,1540,360,1535,375],
  ["~#d07228", 255,635,285,575,335,525,850,340,1120,430,1232,478,1298,555,1380,725,1388,775,1378,1025,1295,1200,850,1508,810,1510,525,1440,370,1333,258,1195,205,1070,175,870],
  ["~#b45e12", 850,340,930,310,1030,345,1118,385,1232,475,1120,430],
  ["#c06820", 1010,335,1030,312,1090,285,1125,380,1030,345],
  ["#bb6418", 1012,280,1092,250,1092,285,1030,310],
  ["#b85616", 1092,250,1232,200,1275,245,1250,365,1125,365],
  ["#dd7030", 1232,200,1310,170,1305,210,1268,230],
  ["#c66418", 1310,170,1360,205,1330,238,1305,210],
  ["#c96a2e", 1272,248,1325,248,1345,310,1268,348],
  ["#ca7020", 1330,240,1345,220,1380,230,1340,280],
  ["#e07830", 1345,285,1385,240,1440,295,1425,312,1345,308],
  ["#e07a2c", 1430,295,1530,380,1490,395],
  ["#cf701e", 1125,365,1250,365,1232,475,1118,385],
  ["~#cc6e20", 1345,310,1425,312,1492,395,1478,490,1250,370],
  ["~#c76c18", 1250,375,1478,490,1445,525,1298,555,1232,478],
  ["#bf5e1c", 1298,555,1445,527,1490,575,1408,680,1330,620],
  ["#c46020", 1330,620,1408,680,1380,725],
  ["#b66014", 1445,527,1480,480,1535,518,1490,575],
  ["#a0581a", 1480,480,1492,395,1530,380,1568,405,1568,520,1535,518],
  ["#c96a28", 1490,580,1535,518,1552,525,1560,565],
  ["#ad5c18", 1388,780,1500,880,1385,925],
  ["#c96c2a", 1385,925,1500,880,1530,900,1500,1000,1378,1025],
  ["#b0580c", 1378,1025,1500,1005,1550,1085,1340,1250,1295,1200],
  ["~#ac5a18", 1045,1375,1295,1200,1415,1370,1420,1430,1340,1505,1140,1550],
  ["~#bf6a28", 850,1510,1045,1375,1140,1550,895,1550,885,1485],
  ["#b0601e", 1340,1505,1420,1430,1418,1520,1365,1550],
  ["#b4601e", 1415,1380,1505,1388,1490,1450,1420,1450],
  ["#c0611e", 1420,1450,1490,1450,1510,1490,1495,1515,1425,1510,1408,1490],
  ["#c06c22", 1515,1388,1568,1375,1568,1495,1525,1495,1490,1450],
  ["#e07028", 1525,1495,1568,1495,1568,1550,1465,1550],
  ["#b5621a", 810,1510,848,1508,860,1550,812,1550],
  ["#b95e10", 505,1550,525,1440,810,1510,810,1550],
  ["#c06316", 250,1475,370,1333,525,1440,500,1550,232,1550],
  ["#b95a10", 232,1550,255,1490,283,1550],
  ["#be6216", 115,1550,145,1450,250,1472,232,1550],
  ["~#c46022", 115,1410,145,1240,250,1390,212,1462,148,1448],
  ["~#d0662e", 155,1235,250,1195,365,1330,250,1395],
  ["#b85f14", 78,1420,115,1415,148,1448,115,1495],
  ["#c96b24", 20,1335,65,1205,145,1240,115,1410,75,1418],
  ["#b3601e", 65,1205,75,1165,115,1208,145,1240],
  ["#b4601e", 78,1165,108,1068,205,1068,255,1195,115,1205],
  ["#c06a22", 115,1205,255,1195,145,1240],
  ["#b8651c", 108,1068,130,1015,195,1020,205,1068],
  ["#c0681e", 130,1015,158,935,185,935,195,1020],
  ["#c46e20", 158,935,175,875,185,935],
];
const carbohydrateMergedCells: Row[] = [
  ["~#cc6a25", 806.5,1262,824.4,1240,846,1211,876,1251.7,889.6,1312.8,860,1325.6,842,1325.5],
  ["~#c4621a", 792,1452.6,867.4,1392.6,849.5,1363.6,911.8,1414.7,917.2,1440.2,868.8,1499,852.7,1502.3,819,1496.4],
];
const carbohydrateRightCells: Row[] = [
  ["#b86238", 125,195,185,160,245,335,135,230],
  ["#a55a18", 90,350,98,255,135,232,215,320,195,370,150,395],
  ["#b35e10", 50,395,90,350,150,395,95,460],
  ["#b85a0a", 150,395,195,372,232,405,225,445,160,445],
  ["#ae5c14", 230,405,265,375,288,465,225,435],
  ["#c46c22", 95,465,160,445,225,445,288,465,180,598,35,560],
  ["~#cc6b28", 180,598,275,460,288,465,375,700,330,785,220,800],
  ["#c86a2e", 140,830,335,790,402,870,330,1090,280,1110,100,955],
  ["#b9600e", 355,710,395,780,372,785,335,770],
  ["#cb6428", 372,785,395,780,415,825,402,865],
  ["#c86a2a", 280,1110,330,1095,295,1185],
  ["#9a5514", 330,1095,415,830,458,945,438,1165,315,1135],
  ["#b45a1a", 315,1145,438,1170,425,1300,270,1272],
  ["~#a55a24", 270,1272,425,1300,405,1495,260,1465,222,1425],
  ["~#ae5e1e", 222,1425,260,1465,405,1495,400,1568,345,1568],
  ["#cc7030", 175,1568,222,1425,345,1568],
  ["#c26618", 160,1375,270,1275,222,1425,190,1510,130,1510,115,1385],
  ["#b06018", 130,1510,190,1510,175,1568,135,1568],
];

// frame, cells drawn in that order
const cellLayers: [string, Row[]][] = [
  ["o", regionCells], ["a", carbonCells], ["a", antennaCells], ["o", antennaRightCells],
  ["o", photosynthesisCells], ["o", oxidativeTopCells], ["d", oxidativeCells],
  ["d", aminoTopCells], ["e", aminoCells], ["d", secondaryCells],
  ["k", cofactorTopCells], ["o", cofactorMergedCells], ["g", cofactorCells],
  ["f", lipidCells], ["f", purineCells], ["f", glycanCells], ["e", pyrimidineCells],
  ["f", enzymeCells], ["g", enzymeRightCells], ["g", redCells],
  ["h", carbohydrateCells], ["o", carbohydrateMergedCells], ["f", carbohydrateRightCells], ["i", glycolysisCells],
  ["j", signalingCells], ["o", chaperoneLeftCells], ["c", chaperoneCells], ["d", chaperoneLowCells],
  ["o", processingMergedCells], ["c", processingCells], ["d", processingLowCells], ["c", labelingCells], ["c", proteasomeCells],
  ["c", ubiquitinCells], ["c", chromatinCells], ["c", peptidaseCells], ["b", translationCells],
  ["o", ribosomeMergedCells], ["c", ribosomeCells], ["d", transcriptionCells], ["d", spliceosomeCells],
];

// [line width, x, y, x, y ...]
const borderLines: number[][] = [
  [3.5, 1287,499,1401,350],
  [12, 585,8,1561,961],
  [11, 8,188,45,154,256,8],
  [10, 8,1410,150,1561],
  [8, 8,1150,132,998],
  [5, 8,908,132,998],
  [10, 1287,1561,1486,1258,1561,1148],
  [7, 1417,1367,1561,1490],
  [7, 1349,8,1561,226],
  [7, 1272,8,1003,415],
  [7, 1180,590,848,1033],
  [4, 303,242,868,285],
  [3, 256,8,303,242,8,475],
  [4.5, 132,998,848,1033],
  [4, 331,1009,414,1197,320,1484,207,1512,96,1499],
  [3.5, 414,1197,781,1060],
  [3, 781,1031,781,1060],
  [5, 781,1060,901,1169,976,1362],
  [5, 848,1033,976,1362],
  [6, 976,1362,1486,1258],
  [5, 976,1362,957,1561],
  [4, 1216,1107,1317,1292],
  [3, 1216,1107,1428,912,1561,961],
  [3, 1436,842,1428,912],
  [3, 918,942,981,1052,1044,1111,1216,1107],
  [3, 981,1052,871,1105],
  [3, 1036,1130,901,1169],
  [3, 1045,1111,1036,1130,1050,1346],
  [3, 1003,418,1028,624,1040,728,1031,789],
  [3, 1040,728,1072,732],
  [3.5, 767,180,858,95,944,142,1001,252],
  [3, 857,8,858,95],
  [3.5, 1072,8,1000,132,944,142],
  [3, 1000,132,1001,252,923,333],
  [3, 1001,252,1033,268,1093,274],
  [3, 1033,268,1058,331],
  [2.5, 971,380,1027,374],
  [3.5, 1108,8,1211,97],
  [3, 1203,8,1197,78],
  [3.5, 1187,138,1271,142,1373,214,1404,268,1401,350],
  [3.5, 1258,540,1180,552,1129,539],
  [3.5, 1219,89,1271,142,1365,25],
  [3, 1373,214,1447,175,1470,134],
  [3, 1447,175,1467,233],
  [3, 1404,268,1467,233,1561,234],
  [3.5, 1401,350,1561,452],
  [3, 1429,8,1467,53,1480,49,1498,42,1539,78,1512,153],
  [3, 1498,42,1507,8],
  [3, 1539,78,1561,75],
  [2.5, 1512,153,1561,161],
  [2.5, 1512,172,1520,156],
  [3.5, 1287,499,1258,540,1333,647],
  [6, 1280,683,1561,505],
  [2.5, 1180,552,1169,575],
  [3, 1362,631,1378,700],
  [4, 1378,700,1561,713],
  [3, 1378,700,1347,751],
  [3, 1315,718,1378,700],
  [3, 1512,530,1561,542],
  [5, 1467,1289,1561,1307],
  [3, 1505,1236,1534,1302],
  [3, 1436,1381,1485,1341,1514,1349,1532,1363,1489,1426],
  [3, 1467,1292,1485,1341],
  [2.5, 1433,1270,1454,1305],
];
const signalingLines: number[][] = [
  [3, 130,280,375,38],
  [3, 130,280,140,420,420,585],
  [3, 140,420,37,570],
  [2, 95,268,125,282],
  [2, 37,285,95,268],
  [3, 730,38,745,125],
  [3, 640,155,745,125,780,340],
  [3, 640,155,655,400],
  [3, 540,38,640,155],
  [3, 810,38,1015,170],
  [3, 745,38,755,130,790,335],
  [2, 1065,38,1075,130],
  [2, 1125,38,1140,85],
  [5, 37,600,215,745],
];
const pinkLines: number[][] = [
  [3, 30,1365,205,1315],
  [3, 30,1425,415,1470],
  [3, 420,1450,410,1550],
  [2, 320,1530,395,1490],
];
const frameLines: number[][] = [[13, 4,4,1564,4,1564,1564,4,1564,4,4]];

// [text, centre x, centre y, font size, line spacing, weight]
const labelRows: [string, number, number, number, number, string][] = [
  ["Photosynthesis", 511, 662, 150, 150, "bold"],
  ["Carbohydrate\nmetabolism", 650, 1374, 88, 90, "bold"],
  ["Amino acid\nmetabolism", 1180, 915, 72, 72, "bold"],
  ["Glycolysis", 187, 1248, 87, 87, "bold"],
  ["Other\nenzymes", 1165, 1438, 82, 85, "bold"],
  ["Chaperones\nand folding\ncatalysts", 1213, 357, 50, 50, "bold"],
  ["Photosynthesis-\nantenna\nproteins", 481, 161, 52.5, 52.5, "bold"],
  ["Cofactor\nbiosynthesis", 1404, 1116, 53, 53, "bold"],
  ["Lipid and\nsteroid\nmetabolism", 1148, 1237, 41.5, 41.5, "bold"],
  ["RNA\ntransport", 765, 56, 46, 48, "bold"],
  ["Carbon\nfixation in\nphotosynthetic\norganisms", 130, 235, 33, 33, "bold"],
  ["Ribosome", 1083, 146, 40, 40, "bold"],
  ["Proteasome", 1373, 136, 34, 34, "bold"],
  ["Peptidases", 1482, 325, 33, 33, "bold"],
  ["Mitochondrial\nbiogenesis", 939, 56, 28, 28, "bold"],
  ["Translation\nfactors", 887, 206, 29.5, 29.5, "bold"],
  ["tRNA\nloading", 997, 331, 27, 27, "bold"],
  ["Protein\nprocessing\nin\nendoplasmic\nreticulum", 1397, 504, 25.6, 25.6, "normal"],
  ["Basal\ntranscription\nfactors", 1482, 645, 28, 28, "bold"],
  ["Spliceosome", 1482, 796, 30, 30, "bold"],
  ["Oxidative\nphosphorylation", 1093, 587, 20, 20, "normal"],
  ["TCA cycle and\nanaplerotic enzymes", 514, 1076, 33, 33, "bold"],
  ["Transport", 52, 1022, 24.6, 25, "bold"],
  ["Pyrimidine\nmetabolism", 909, 1044, 20.6, 22, "bold"],
  ["Glycan\nmetabolism", 955, 1117, 23, 24, "bold"],
  ["Purine\nmetabolism", 987, 1228, 22.5, 22.5, "bold"],
  ["Pyruvate\nmetabolism", 933, 1488, 11.5, 11.5, "bold"],
  ["Pentose phosphate\nmetabolism", 272, 1538, 16, 16, "bold"],
  ["Butanoate\nmetabolism", 171, 1531, 13, 13, "bold"],
  ["Other\ncentral\nmetabolism\nenzymes", 832, 1071, 8.5, 10, "bold"],
  ["Cytoskeleton\nproteins", 1443, 1515, 37, 37, "bold"],
  ["Cell\ncycle", 1539, 1237, 22, 23, "bold"],
  ["Cytokinesis", 1500, 1280, 10, 10, "bold"],
  ["Peroxisome", 1521, 1324, 15.7, 15.7, "bold"],
  ["Lysosome", 1456, 1342, 10, 10, "bold"],
  ["Exosome", 1482, 1378, 16.7, 16.7, "bold"],
  ["Endocytosis", 1529, 1422, 13, 13, "bold"],
  ["Protein\nkinases", 1455, 1277, 8, 9, "bold"],
  ["Regulation\nof actin\ncytoskeleton", 1304, 1556, 4, 6, "bold"],
  ["Biosynthesis\nof other\nsecondary\nmetabolites", 1454, 899, 8.7, 9.5, "bold"],
  ["RNA\ndegradation", 1250, 605, 16, 16, "normal"],
  ["SNAREs", 1163, 556, 8.5, 8.5, "bold"],
  ["Transcription\nmachinery", 1334, 684, 12.5, 12.5, "bold"],
  ["Transcription\nfactors", 1342, 722, 7.5, 8, "bold"],
  ["RNA\npolymerase", 1545, 525, 6.5, 7.5, "bold"],
  ["Methane\nmetabolism", 1048, 747, 3.5, 4, "bold"],
  ["Ubiquitin\nlabeling", 1424, 223, 17, 17, "bold"],
  ["Protein\nexport", 1488, 197, 17.5, 17.5, "bold"],
  ["Histone", 1424, 46, 18, 18, "bold"],
  ["DNA\nreplication\ncontrol", 1535, 34, 12, 12, "normal"],
  ["Chromosome-\nrelated", 1491, 96, 13, 13, "normal"],
  ["Nucleotide\nexcision\nrepair", 1543, 129, 8.3, 8.3, "normal"],
  ["DNA repair\nand\nrecombination\nproteins", 1476, 21, 8, 8, "bold"],
  ["DNA\nreplication", 1541, 178, 9.5, 9.5, "bold"],
  ["Ubiquitin\nmediated\nproteolysis", 1284, 61, 14.2, 14.5, "bold"],
  ["SNARE interactions\nin vesicular\ntransport", 1222, 127, 5.3, 6, "bold"],
  ["Fanconi\nanemia\npathway", 1509, 160, 3.5, 4, "bold"],
  ["Ribosome\nbiogenesis\nin\neukaryotes", 1177, 27, 10.6, 10.6, "bold"],
  ["mRNA\nsurveillance\npathway", 1223, 37, 8, 8, "bold"],
  ["Messenger\nRNA\nBiogenesis", 981, 174, 7, 7.7, "bold"],
  ["Ribosome\nbiogenesis", 1063, 287, 7, 7.5, "bold"],
  ["Transfer\nRNA\nbiogenesis", 998, 389, 5, 5.6, "bold"],
  ["Plant\nhormone\nsignal\ntransduction", 88, 68, 15, 15, "normal"],
  ["FoxO\nsignaling\npathway", 27, 21, 11.5, 11.5, "bold"],
  ["Ras\nsignaling\npathway", 41.6, 122, 10.5, 10.5, "bold"],
  ["Two-\ncomponent\nsystem", 137, 14, 6.2, 6.2, "bold"],
  ["CD\nMolecules", 204, 15, 7, 7, "bold"],
  ["GTP-\nbinding\nsignaling\nproteins", 175, 38, 8, 8, "bold"],
  ["MAPK\nsignaling\npathway", 148, 54.5, 5.8, 5.8, "bold"],
  ["Phosphatidylinositol\nsignaling system", 17.7, 74, 2.8, 3, "bold"],
  ["Hif-1\nsignaling\npathway", 12.5, 99, 2.5, 4, "bold"],
  ["Secretion\nsystem", 17.6, 928, 5, 6, "bold"],
  ["Antigen\nprocessing\nand\npresentation", 20.7, 1454, 5, 5.8, "bold"],
  ["Plant-\npathogen\ninteraction", 48.7, 1497, 11, 11, "bold"],
  ["Circadian rhythm-\nplant", 46.6, 1537, 10, 10, "bold"],
  ["Estrogen\nsignaling\npathway", 117.8, 1545, 5.5, 6.4, "bold"],
  ["GABAergic\nsynapse", 94.5, 1555, 4.5, 5.4, "bold"],
];

const place = (frame: string, coords: number[]) => {
  const [sx, sy, ox, oy] = frames[frame];
  const out: number[][] = [];
  for (let k = 0; k + 1 < coords.length; k += 2) {
    out.push([ox + coords[k] * sx, oy + coords[k + 1] * sy]);
  }
  return out;
};

const cells: { fill: string; faint: boolean; pts: number[][] }[] = [];
cellLayers.forEach(([frame, rows]) => {
  rows.forEach((row) => {
    const tone = row[0] as string;
    cells.push({
      fill: tone.replace("~", ""),
      faint: tone.startsWith("~"),
      pts: place(frame, row.slice(1) as number[]),
    });
  });
});

const lines: { width: number; pts: number[][] }[] = [];
const addLines = (frame: string, rows: number[][]) =>
  rows.forEach((r) => lines.push({ width: r[0], pts: place(frame, r.slice(1)) }));
addLines("o", borderLines);
addLines("j", signalingLines);
addLines("i", pinkLines);
addLines("o", frameLines);

export default function App() {
  const ref = useRef<HTMLDivElement>(null);
  useEffect(() => {
    document.body.style.margin = "0";
    const chart = echarts.init(ref.current!, undefined, { renderer: "svg" });
    const anchor = (n: number) => new Array(n).fill(0).map(() => [0, 0]);
    chart.setOption({
      animation: false,
      backgroundColor: "#000",
      tooltip: { show: false },
      grid: { left: 0, right: 0, top: 0, bottom: 0 },
      xAxis: { type: "value", min: 0, max: 1568, show: false },
      yAxis: { type: "value", min: 0, max: 1568, inverse: true, show: false },
      series: [
        {
          type: "custom",
          silent: true,
          clip: true,
          z: 1,
          progressive: 0,
          data: anchor(cells.length),
          renderItem: (p: any, api: any) => {
            const c = cells[p.dataIndex];
            return {
              type: "polygon",
              shape: { points: c.pts.map((q) => api.coord(q)) },
              style: {
                fill: c.fill,
                stroke: c.faint ? "rgba(0,0,0,0.35)" : "rgba(0,0,0,0.85)",
                lineWidth: c.faint ? 1 : 1.4,
              },
            };
          },
        },
        {
          type: "custom",
          silent: true,
          clip: true,
          z: 2,
          progressive: 0,
          data: anchor(lines.length),
          renderItem: (p: any, api: any) => {
            const l = lines[p.dataIndex];
            return {
              type: "polyline",
              shape: { points: l.pts.map((q) => api.coord(q)) },
              style: { fill: "none", stroke: "#000", lineWidth: l.width, lineJoin: "miter" },
            };
          },
        },
        {
          type: "custom",
          silent: true,
          z: 3,
          progressive: 0,
          data: anchor(labelRows.length),
          renderItem: (p: any, api: any) => {
            const [text, x, y, size, spacing, weight] = labelRows[p.dataIndex];
            const pos = api.coord([x, y]);
            const off = Math.max(0.6, size * 0.014);
            return {
              type: "text",
              style: {
                text,
                x: pos[0],
                y: pos[1],
                fill: "#fff",
                font: `${weight} ${size}px "DejaVu Sans"`,
                lineHeight: Math.max(spacing, size),
                align: "center",
                verticalAlign: "middle",
                textShadowColor: "#000",
                textShadowBlur: 0.6,
                textShadowOffsetX: off,
                textShadowOffsetY: off,
              },
            };
          },
        },
      ],
    });
    return () => chart.dispose();
  }, []);
  return <div ref={ref} style={{ width: 2512, height: 2512 }} />;
}
